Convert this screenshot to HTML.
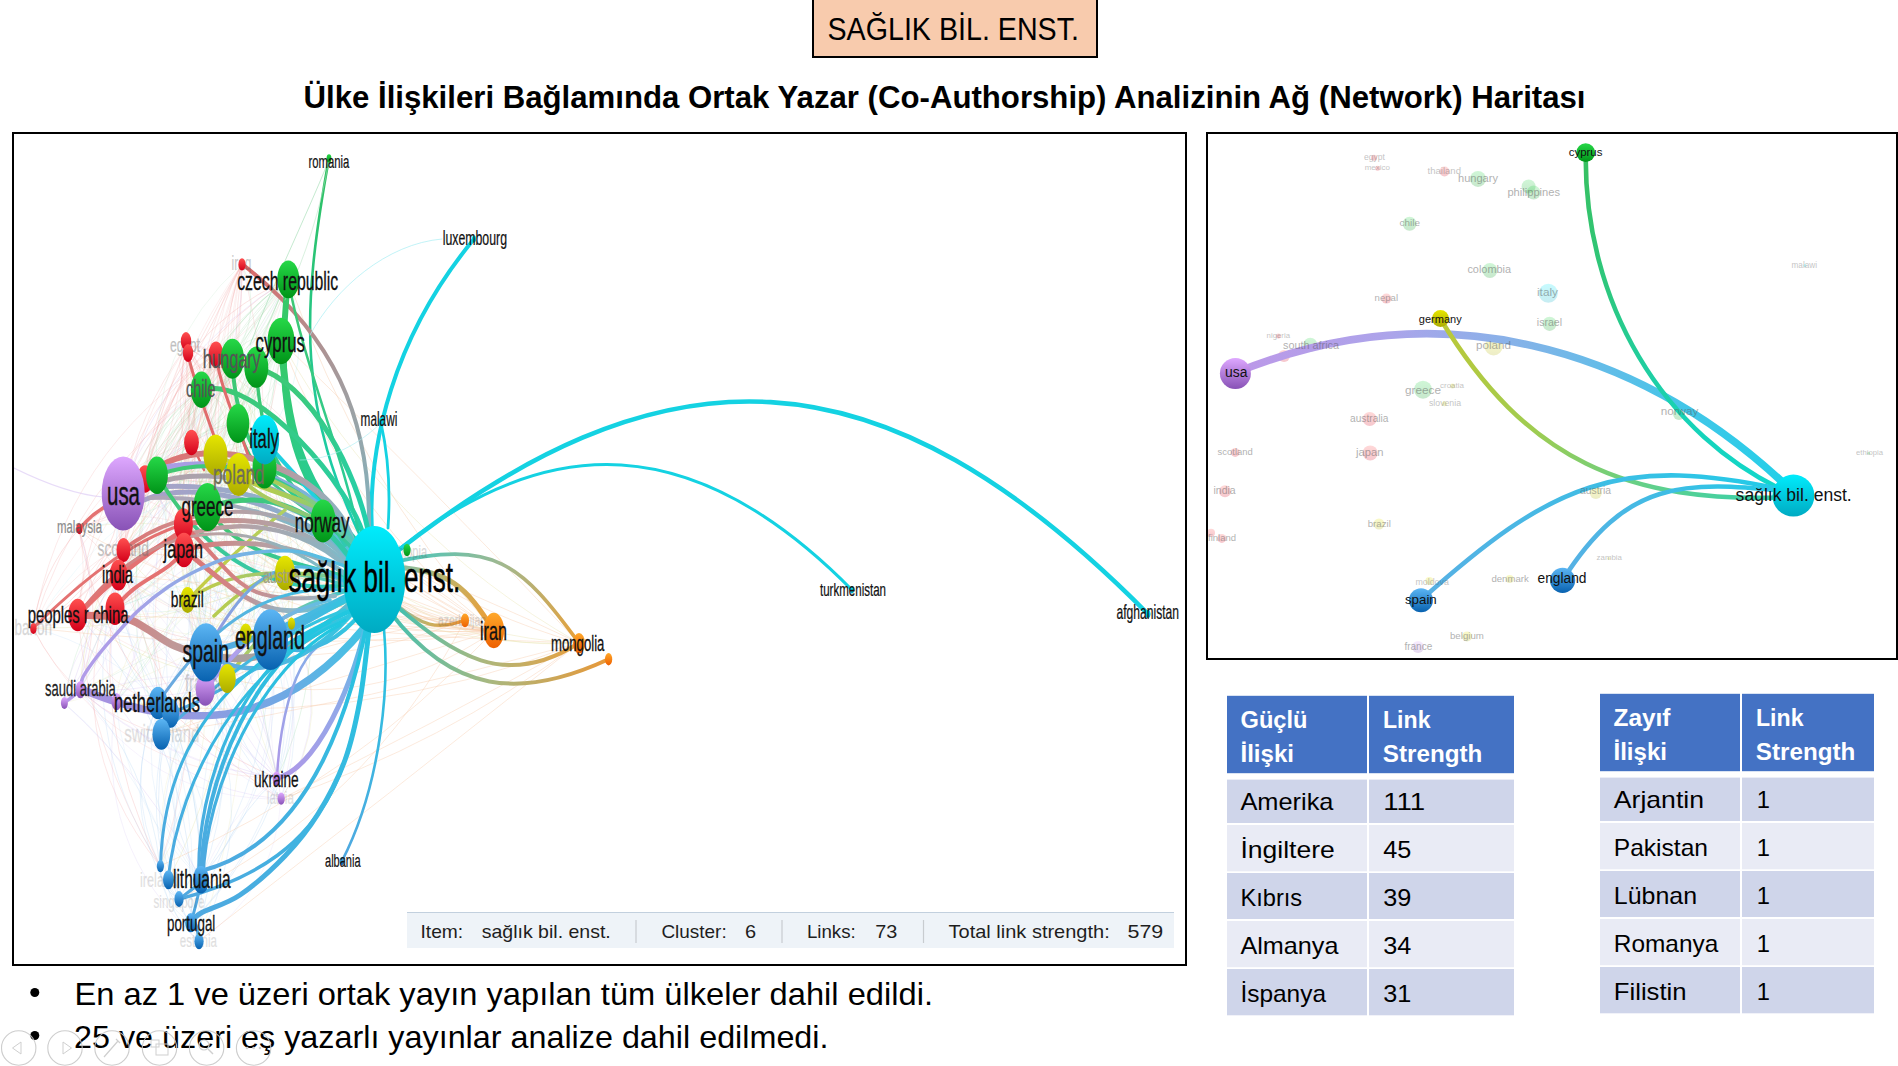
<!DOCTYPE html>
<html><head><meta charset="utf-8"><title>slide</title>
<style>
html,body{margin:0;padding:0;background:#fff;}
body{width:1898px;height:1066px;overflow:hidden;}
svg{display:block;}
text{font-family:"Liberation Sans",sans-serif;}
</style></head><body>
<svg width="1898" height="1066" viewBox="0 0 1898 1066">
<defs>
<linearGradient id="n_red" x1="0" y1="0" x2="0" y2="1"><stop offset="0" stop-color="#ff5050"/><stop offset="1" stop-color="#d4001a"/></linearGradient>
<linearGradient id="n_green" x1="0" y1="0" x2="0" y2="1"><stop offset="0" stop-color="#26d848"/><stop offset="1" stop-color="#009418"/></linearGradient>
<linearGradient id="n_blue" x1="0" y1="0" x2="0" y2="1"><stop offset="0" stop-color="#5cb6f4"/><stop offset="1" stop-color="#0862b0"/></linearGradient>
<linearGradient id="n_yellow" x1="0" y1="0" x2="0" y2="1"><stop offset="0" stop-color="#e6e600"/><stop offset="1" stop-color="#acac00"/></linearGradient>
<linearGradient id="n_purple" x1="0" y1="0" x2="0" y2="1"><stop offset="0" stop-color="#dea8ff"/><stop offset="1" stop-color="#8852b6"/></linearGradient>
<linearGradient id="n_cyan" x1="0" y1="0" x2="0" y2="1"><stop offset="0" stop-color="#00ecfc"/><stop offset="1" stop-color="#00aac2"/></linearGradient>
<linearGradient id="n_orange" x1="0" y1="0" x2="0" y2="1"><stop offset="0" stop-color="#ffa82a"/><stop offset="1" stop-color="#ee6000"/></linearGradient>
<linearGradient id="lg1" gradientUnits="userSpaceOnUse" x1="390.0" y1="563.0" x2="579.0" y2="643.0"><stop offset="0.00" stop-color="#40c8c0"/><stop offset="0.50" stop-color="#a0b890"/><stop offset="1.00" stop-color="#e8a038"/></linearGradient>
<linearGradient id="lg2" gradientUnits="userSpaceOnUse" x1="395.0" y1="567.0" x2="494.0" y2="631.0"><stop offset="0.00" stop-color="#80c0a8"/><stop offset="0.50" stop-color="#c8b060"/><stop offset="1.00" stop-color="#f09a30"/></linearGradient>
<linearGradient id="lg3" gradientUnits="userSpaceOnUse" x1="398.0" y1="606.0" x2="465.0" y2="620.0"><stop offset="0.00" stop-color="#90b8a0"/><stop offset="0.50" stop-color="#c8b060"/><stop offset="1.00" stop-color="#f09030"/></linearGradient>
<linearGradient id="lg4" gradientUnits="userSpaceOnUse" x1="395.0" y1="605.0" x2="579.0" y2="643.0"><stop offset="0.00" stop-color="#40c0b0"/><stop offset="0.50" stop-color="#a8b880"/><stop offset="1.00" stop-color="#e8a040"/></linearGradient>
<linearGradient id="lg5" gradientUnits="userSpaceOnUse" x1="390.0" y1="612.0" x2="609.0" y2="659.0"><stop offset="0.00" stop-color="#40c0b0"/><stop offset="0.50" stop-color="#a8b880"/><stop offset="1.00" stop-color="#e89838"/></linearGradient>
<linearGradient id="lg6" gradientUnits="userSpaceOnUse" x1="329.0" y1="158.0" x2="366.0" y2="548.0"><stop offset="0.00" stop-color="#30c060"/><stop offset="1.00" stop-color="#18cfb8"/></linearGradient>
<linearGradient id="lg7" gradientUnits="userSpaceOnUse" x1="242.0" y1="264.0" x2="369.0" y2="529.0"><stop offset="0.00" stop-color="#e06868"/><stop offset="0.33" stop-color="#b09090"/><stop offset="0.67" stop-color="#98a4a8"/><stop offset="1.00" stop-color="#80b4c0"/></linearGradient>
<linearGradient id="lg8" gradientUnits="userSpaceOnUse" x1="288.0" y1="279.0" x2="358.0" y2="545.0"><stop offset="0.00" stop-color="#38c864"/><stop offset="1.00" stop-color="#28cc98"/></linearGradient>
<linearGradient id="lg9" gradientUnits="userSpaceOnUse" x1="281.0" y1="341.0" x2="356.0" y2="542.0"><stop offset="0.00" stop-color="#38c864"/><stop offset="1.00" stop-color="#22cea8"/></linearGradient>
<linearGradient id="lg10" gradientUnits="userSpaceOnUse" x1="256.0" y1="367.0" x2="368.0" y2="530.0"><stop offset="0.00" stop-color="#40c870"/><stop offset="1.00" stop-color="#22d0b0"/></linearGradient>
<linearGradient id="lg11" gradientUnits="userSpaceOnUse" x1="201.0" y1="390.0" x2="364.0" y2="538.0"><stop offset="0.00" stop-color="#40c870"/><stop offset="1.00" stop-color="#24cfac"/></linearGradient>
<linearGradient id="lg12" gradientUnits="userSpaceOnUse" x1="232.0" y1="359.0" x2="350.0" y2="548.0"><stop offset="0.00" stop-color="#40c870"/><stop offset="1.00" stop-color="#28cc9c"/></linearGradient>
<linearGradient id="lg13" gradientUnits="userSpaceOnUse" x1="256.0" y1="367.0" x2="355.0" y2="550.0"><stop offset="0.00" stop-color="#40c870"/><stop offset="1.00" stop-color="#28cc9c"/></linearGradient>
<linearGradient id="lg14" gradientUnits="userSpaceOnUse" x1="264.0" y1="468.0" x2="355.0" y2="545.0"><stop offset="0.00" stop-color="#40c870"/><stop offset="1.00" stop-color="#28cca0"/></linearGradient>
<linearGradient id="lg15" gradientUnits="userSpaceOnUse" x1="238.0" y1="423.0" x2="350.0" y2="555.0"><stop offset="0.00" stop-color="#44c86c"/><stop offset="1.00" stop-color="#30c8b0"/></linearGradient>
<linearGradient id="lg16" gradientUnits="userSpaceOnUse" x1="288.0" y1="279.0" x2="358.0" y2="530.0"><stop offset="0.00" stop-color="#40c870"/><stop offset="1.00" stop-color="#28cc9c"/></linearGradient>
<linearGradient id="lg17" gradientUnits="userSpaceOnUse" x1="145.0" y1="478.0" x2="352.0" y2="540.0"><stop offset="0.00" stop-color="#e07070"/><stop offset="0.33" stop-color="#d08080"/><stop offset="0.67" stop-color="#b0a0a8"/><stop offset="1.00" stop-color="#80b8c8"/></linearGradient>
<linearGradient id="lg18" gradientUnits="userSpaceOnUse" x1="140.0" y1="475.0" x2="356.0" y2="552.0"><stop offset="0.00" stop-color="#b09ae6"/><stop offset="0.33" stop-color="#a0a0e0"/><stop offset="0.67" stop-color="#80b0d8"/><stop offset="1.00" stop-color="#50c4e0"/></linearGradient>
<linearGradient id="lg19" gradientUnits="userSpaceOnUse" x1="150.0" y1="485.0" x2="360.0" y2="562.0"><stop offset="0.00" stop-color="#b0a0a8"/><stop offset="0.33" stop-color="#a8a4b0"/><stop offset="0.67" stop-color="#90b0c0"/><stop offset="1.00" stop-color="#60c0d0"/></linearGradient>
<linearGradient id="lg20" gradientUnits="userSpaceOnUse" x1="144.0" y1="500.0" x2="348.0" y2="558.0"><stop offset="0.00" stop-color="#a8a0c8"/><stop offset="0.50" stop-color="#98a8c8"/><stop offset="1.00" stop-color="#70b8d0"/></linearGradient>
<linearGradient id="lg21" gradientUnits="userSpaceOnUse" x1="140.0" y1="490.0" x2="352.0" y2="552.0"><stop offset="0.00" stop-color="#a8a0c8"/><stop offset="0.33" stop-color="#a0a8c8"/><stop offset="0.67" stop-color="#80b4cc"/><stop offset="1.00" stop-color="#50c4d8"/></linearGradient>
<linearGradient id="lg22" gradientUnits="userSpaceOnUse" x1="150.0" y1="498.0" x2="356.0" y2="568.0"><stop offset="0.00" stop-color="#b0a4b8"/><stop offset="0.33" stop-color="#a8aab8"/><stop offset="0.67" stop-color="#80b8c8"/><stop offset="1.00" stop-color="#50c4d8"/></linearGradient>
<linearGradient id="lg23" gradientUnits="userSpaceOnUse" x1="207.0" y1="507.0" x2="355.0" y2="565.0"><stop offset="0.00" stop-color="#44c86c"/><stop offset="1.00" stop-color="#30c8b0"/></linearGradient>
<linearGradient id="lg24" gradientUnits="userSpaceOnUse" x1="157.0" y1="475.0" x2="352.0" y2="584.0"><stop offset="0.00" stop-color="#44c86c"/><stop offset="0.50" stop-color="#38c8a0"/><stop offset="1.00" stop-color="#30c8c0"/></linearGradient>
<linearGradient id="lg25" gradientUnits="userSpaceOnUse" x1="157.0" y1="475.0" x2="345.0" y2="545.0"><stop offset="0.00" stop-color="#44c86c"/><stop offset="1.00" stop-color="#30c8b0"/></linearGradient>
<linearGradient id="lg26" gradientUnits="userSpaceOnUse" x1="207.0" y1="507.0" x2="352.0" y2="578.0"><stop offset="0.00" stop-color="#44c86c"/><stop offset="1.00" stop-color="#30c8b0"/></linearGradient>
<linearGradient id="lg27" gradientUnits="userSpaceOnUse" x1="323.0" y1="521.0" x2="360.0" y2="560.0"><stop offset="0.00" stop-color="#40c870"/><stop offset="1.00" stop-color="#30c8c0"/></linearGradient>
<linearGradient id="lg28" gradientUnits="userSpaceOnUse" x1="238.0" y1="474.0" x2="352.0" y2="540.0"><stop offset="0.00" stop-color="#c8cc40"/><stop offset="0.50" stop-color="#a0cc60"/><stop offset="1.00" stop-color="#50c8c0"/></linearGradient>
<linearGradient id="lg29" gradientUnits="userSpaceOnUse" x1="215.0" y1="455.0" x2="350.0" y2="538.0"><stop offset="0.00" stop-color="#c8cc40"/><stop offset="0.50" stop-color="#a0cc60"/><stop offset="1.00" stop-color="#50c8c0"/></linearGradient>
<linearGradient id="lg30" gradientUnits="userSpaceOnUse" x1="238.0" y1="474.0" x2="358.0" y2="550.0"><stop offset="0.00" stop-color="#c0cc50"/><stop offset="0.50" stop-color="#90c870"/><stop offset="1.00" stop-color="#50c8c0"/></linearGradient>
<linearGradient id="lg31" gradientUnits="userSpaceOnUse" x1="188.0" y1="600.0" x2="285.0" y2="510.0"><stop offset="0.00" stop-color="#c8cc40"/><stop offset="1.00" stop-color="#b0d060"/></linearGradient>
<linearGradient id="lg32" gradientUnits="userSpaceOnUse" x1="188.0" y1="600.0" x2="345.0" y2="585.0"><stop offset="0.00" stop-color="#c8cc40"/><stop offset="0.50" stop-color="#a0c870"/><stop offset="1.00" stop-color="#40c8d0"/></linearGradient>
<linearGradient id="lg33" gradientUnits="userSpaceOnUse" x1="246.0" y1="634.0" x2="350.0" y2="590.0"><stop offset="0.00" stop-color="#c8cc40"/><stop offset="1.00" stop-color="#60c8c0"/></linearGradient>
<linearGradient id="lg34" gradientUnits="userSpaceOnUse" x1="291.0" y1="624.0" x2="350.0" y2="600.0"><stop offset="0.00" stop-color="#c8cc40"/><stop offset="1.00" stop-color="#60c8c0"/></linearGradient>
<linearGradient id="lg35" gradientUnits="userSpaceOnUse" x1="227.0" y1="678.0" x2="350.0" y2="590.0"><stop offset="0.00" stop-color="#c8cc40"/><stop offset="0.50" stop-color="#80c8a0"/><stop offset="1.00" stop-color="#40c8d0"/></linearGradient>
<linearGradient id="lg36" gradientUnits="userSpaceOnUse" x1="285.0" y1="573.0" x2="350.0" y2="580.0"><stop offset="0.00" stop-color="#c8cc40"/><stop offset="1.00" stop-color="#40c8d0"/></linearGradient>
<linearGradient id="lg37" gradientUnits="userSpaceOnUse" x1="214.0" y1="616.0" x2="285.0" y2="573.0"><stop offset="0.00" stop-color="#b8cc50"/><stop offset="1.00" stop-color="#a8cc60"/></linearGradient>
<linearGradient id="lg38" gradientUnits="userSpaceOnUse" x1="183.0" y1="524.0" x2="350.0" y2="568.0"><stop offset="0.00" stop-color="#e07070"/><stop offset="0.33" stop-color="#c09898"/><stop offset="0.67" stop-color="#a8a8b0"/><stop offset="1.00" stop-color="#70c0d0"/></linearGradient>
<linearGradient id="lg39" gradientUnits="userSpaceOnUse" x1="184.0" y1="550.0" x2="352.0" y2="580.0"><stop offset="0.00" stop-color="#e07070"/><stop offset="0.33" stop-color="#c09898"/><stop offset="0.67" stop-color="#a8a8b0"/><stop offset="1.00" stop-color="#70c0d0"/></linearGradient>
<linearGradient id="lg40" gradientUnits="userSpaceOnUse" x1="123.0" y1="550.0" x2="345.0" y2="560.0"><stop offset="0.00" stop-color="#e07070"/><stop offset="0.33" stop-color="#c89898"/><stop offset="0.67" stop-color="#a8a8b0"/><stop offset="1.00" stop-color="#80b8c8"/></linearGradient>
<linearGradient id="lg41" gradientUnits="userSpaceOnUse" x1="118.0" y1="575.0" x2="352.0" y2="572.0"><stop offset="0.00" stop-color="#e07070"/><stop offset="0.33" stop-color="#c89898"/><stop offset="0.67" stop-color="#a8a8b0"/><stop offset="1.00" stop-color="#80b8c8"/></linearGradient>
<linearGradient id="lg42" gradientUnits="userSpaceOnUse" x1="184.0" y1="550.0" x2="355.0" y2="595.0"><stop offset="0.00" stop-color="#e07070"/><stop offset="0.33" stop-color="#d08888"/><stop offset="0.67" stop-color="#90b8c8"/><stop offset="1.00" stop-color="#40c4d8"/></linearGradient>
<linearGradient id="lg43" gradientUnits="userSpaceOnUse" x1="183.0" y1="524.0" x2="335.0" y2="596.0"><stop offset="0.00" stop-color="#e07070"/><stop offset="0.50" stop-color="#d08888"/><stop offset="1.00" stop-color="#90b8c8"/></linearGradient>
<linearGradient id="lg44" gradientUnits="userSpaceOnUse" x1="78.0" y1="615.0" x2="358.0" y2="598.0"><stop offset="0.00" stop-color="#e07070"/><stop offset="0.33" stop-color="#c09898"/><stop offset="0.67" stop-color="#a0a0a0"/><stop offset="1.00" stop-color="#50c0d8"/></linearGradient>
<linearGradient id="lg45" gradientUnits="userSpaceOnUse" x1="78.0" y1="615.0" x2="345.0" y2="585.0"><stop offset="0.00" stop-color="#e07070"/><stop offset="0.50" stop-color="#c0a0a0"/><stop offset="1.00" stop-color="#70c0d0"/></linearGradient>
<linearGradient id="lg46" gradientUnits="userSpaceOnUse" x1="64.0" y1="703.0" x2="345.0" y2="566.0"><stop offset="0.00" stop-color="#b49ae8"/><stop offset="0.33" stop-color="#a8a0e8"/><stop offset="0.67" stop-color="#80b0e4"/><stop offset="1.00" stop-color="#50c0e0"/></linearGradient>
<linearGradient id="lg47" gradientUnits="userSpaceOnUse" x1="81.0" y1="689.0" x2="364.0" y2="628.0"><stop offset="0.00" stop-color="#a890e0"/><stop offset="0.33" stop-color="#9898e0"/><stop offset="0.67" stop-color="#70a8e4"/><stop offset="1.00" stop-color="#40c4e4"/></linearGradient>
<linearGradient id="lg48" gradientUnits="userSpaceOnUse" x1="206.0" y1="690.0" x2="330.0" y2="600.0"><stop offset="0.00" stop-color="#b098e8"/><stop offset="1.00" stop-color="#60c0e0"/></linearGradient>
<linearGradient id="lg49" gradientUnits="userSpaceOnUse" x1="277.0" y1="778.0" x2="368.0" y2="610.0"><stop offset="0.00" stop-color="#b098e8"/><stop offset="0.50" stop-color="#90a8e8"/><stop offset="1.00" stop-color="#40c4e4"/></linearGradient>
<linearGradient id="lg50" gradientUnits="userSpaceOnUse" x1="277.0" y1="778.0" x2="330.0" y2="640.0"><stop offset="0.00" stop-color="#b098e8"/><stop offset="1.00" stop-color="#80b0e8"/></linearGradient>
<linearGradient id="lg51" gradientUnits="userSpaceOnUse" x1="206.0" y1="652.0" x2="350.0" y2="595.0"><stop offset="0.00" stop-color="#58a8e0"/><stop offset="1.00" stop-color="#40c0e0"/></linearGradient>
<linearGradient id="lg52" gradientUnits="userSpaceOnUse" x1="270.0" y1="640.0" x2="355.0" y2="595.0"><stop offset="0.00" stop-color="#58a8e0"/><stop offset="1.00" stop-color="#30c8e0"/></linearGradient>
<linearGradient id="lg53" gradientUnits="userSpaceOnUse" x1="206.0" y1="652.0" x2="355.0" y2="610.0"><stop offset="0.00" stop-color="#6aa8e0"/><stop offset="1.00" stop-color="#30c8e0"/></linearGradient>
<linearGradient id="lg54" gradientUnits="userSpaceOnUse" x1="206.0" y1="652.0" x2="350.0" y2="585.0"><stop offset="0.00" stop-color="#a098e0"/><stop offset="1.00" stop-color="#40c0e0"/></linearGradient>
<linearGradient id="lg55" gradientUnits="userSpaceOnUse" x1="158.0" y1="703.0" x2="345.0" y2="590.0"><stop offset="0.00" stop-color="#70a8e0"/><stop offset="1.00" stop-color="#40c0e0"/></linearGradient>
<linearGradient id="lg56" gradientUnits="userSpaceOnUse" x1="161.0" y1="734.0" x2="345.0" y2="610.0"><stop offset="0.00" stop-color="#58a8e0"/><stop offset="1.00" stop-color="#30c8e0"/></linearGradient>
<linearGradient id="lg57" gradientUnits="userSpaceOnUse" x1="171.0" y1="713.0" x2="350.0" y2="615.0"><stop offset="0.00" stop-color="#58a8e0"/><stop offset="1.00" stop-color="#30c8e0"/></linearGradient>
<linearGradient id="lg58" gradientUnits="userSpaceOnUse" x1="270.0" y1="640.0" x2="355.0" y2="620.0"><stop offset="0.00" stop-color="#58a8e0"/><stop offset="1.00" stop-color="#30c8e0"/></linearGradient>
<linearGradient id="lg59" gradientUnits="userSpaceOnUse" x1="160.5" y1="866.0" x2="350.0" y2="612.0"><stop offset="0.00" stop-color="#50a8e0"/><stop offset="0.50" stop-color="#38b8e0"/><stop offset="1.00" stop-color="#20c8e0"/></linearGradient>
<linearGradient id="lg60" gradientUnits="userSpaceOnUse" x1="168.0" y1="880.0" x2="345.0" y2="620.0"><stop offset="0.00" stop-color="#50a8e0"/><stop offset="0.50" stop-color="#38b8e0"/><stop offset="1.00" stop-color="#20c8e0"/></linearGradient>
<linearGradient id="lg61" gradientUnits="userSpaceOnUse" x1="201.0" y1="880.0" x2="352.0" y2="610.0"><stop offset="0.00" stop-color="#50a8e0"/><stop offset="0.50" stop-color="#38b8e0"/><stop offset="1.00" stop-color="#20c8e0"/></linearGradient>
<linearGradient id="lg62" gradientUnits="userSpaceOnUse" x1="199.0" y1="878.0" x2="330.0" y2="622.0"><stop offset="0.00" stop-color="#50a8e0"/><stop offset="0.50" stop-color="#38b8e0"/><stop offset="1.00" stop-color="#20c8e0"/></linearGradient>
<linearGradient id="lg63" gradientUnits="userSpaceOnUse" x1="203.0" y1="878.0" x2="340.0" y2="625.0"><stop offset="0.00" stop-color="#50a8e0"/><stop offset="0.50" stop-color="#38b8e0"/><stop offset="1.00" stop-color="#20c8e0"/></linearGradient>
<linearGradient id="lg64" gradientUnits="userSpaceOnUse" x1="201.0" y1="871.0" x2="372.0" y2="595.0"><stop offset="0.00" stop-color="#50a8e0"/><stop offset="0.50" stop-color="#38b8e0"/><stop offset="1.00" stop-color="#20c8e0"/></linearGradient>
<linearGradient id="lg65" gradientUnits="userSpaceOnUse" x1="179.0" y1="899.0" x2="373.0" y2="595.0"><stop offset="0.00" stop-color="#50a8e0"/><stop offset="0.50" stop-color="#38b8e0"/><stop offset="1.00" stop-color="#20c8e0"/></linearGradient>
<linearGradient id="lg66" gradientUnits="userSpaceOnUse" x1="191.0" y1="923.0" x2="374.0" y2="595.0"><stop offset="0.00" stop-color="#50a8e0"/><stop offset="0.50" stop-color="#38b8e0"/><stop offset="1.00" stop-color="#20c8e0"/></linearGradient>
<linearGradient id="lg67" gradientUnits="userSpaceOnUse" x1="342.0" y1="861.0" x2="380.0" y2="600.0"><stop offset="0.00" stop-color="#50a8e0"/><stop offset="1.00" stop-color="#20c8e0"/></linearGradient>
<clipPath id="clipL"><rect x="14" y="134" width="1171" height="830"/></clipPath>
<linearGradient id="lg68" gradientUnits="userSpaceOnUse" x1="1235.0" y1="373.0" x2="1793.0" y2="492.0"><stop offset="0.00" stop-color="#bc98e8"/><stop offset="0.25" stop-color="#aca4ea"/><stop offset="0.50" stop-color="#80b4e8"/><stop offset="0.75" stop-color="#48c4e8"/><stop offset="1.00" stop-color="#20d0e8"/></linearGradient>
<linearGradient id="lg69" gradientUnits="userSpaceOnUse" x1="1440.5" y1="319.0" x2="1793.0" y2="497.0"><stop offset="0.00" stop-color="#bcc838"/><stop offset="0.33" stop-color="#a0cc50"/><stop offset="0.67" stop-color="#60d08c"/><stop offset="1.00" stop-color="#30d0b0"/></linearGradient>
<linearGradient id="lg70" gradientUnits="userSpaceOnUse" x1="1585.7" y1="155.0" x2="1793.0" y2="495.0"><stop offset="0.00" stop-color="#38c060"/><stop offset="0.33" stop-color="#2cc880"/><stop offset="0.67" stop-color="#18d2b4"/><stop offset="1.00" stop-color="#10d8d0"/></linearGradient>
<linearGradient id="lg71" gradientUnits="userSpaceOnUse" x1="1421.0" y1="600.0" x2="1793.0" y2="492.0"><stop offset="0.00" stop-color="#58b0e4"/><stop offset="0.50" stop-color="#40bce4"/><stop offset="1.00" stop-color="#20cce8"/></linearGradient>
<linearGradient id="lg72" gradientUnits="userSpaceOnUse" x1="1562.6" y1="580.0" x2="1793.0" y2="492.0"><stop offset="0.00" stop-color="#58b0e4"/><stop offset="0.50" stop-color="#40bce4"/><stop offset="1.00" stop-color="#20cce8"/></linearGradient>
<clipPath id="clipR"><rect x="1208" y="134" width="688" height="524"/></clipPath>
</defs>
<rect x="0" y="0" width="1898" height="1066" fill="#fff"/>
<rect x="813" y="-2" width="284" height="59" fill="#F8CBAD" stroke="#000" stroke-width="2"/>
<text x="827.5" y="39.7" font-size="31.50" fill="#000" textLength="251.5" lengthAdjust="spacingAndGlyphs">SAĞLIK BİL. ENST.</text>
<text x="303.5" y="107.9" font-size="31.50" fill="#000" font-weight="bold" textLength="1282.0" lengthAdjust="spacingAndGlyphs">Ülke İlişkileri Bağlamında Ortak Yazar (Co-Authorship) Analizinin Ağ (Network) Haritası</text>
<g clip-path="url(#clipL)"><rect x="13" y="133" width="1173" height="832" fill="#fff"/>
<path d="M160.0,866.0 Q160.2,902.8 191.0,923.0" fill="none" stroke="#acd0f2" stroke-width="0.70" stroke-linecap="round" opacity="0.26"/>
<path d="M191.0,923.0 Q205.4,903.7 201.0,880.0" fill="none" stroke="#acd0f2" stroke-width="0.70" stroke-linecap="round" opacity="0.24"/>
<path d="M264.0,468.0 Q156.3,522.9 78.0,615.0" fill="none" stroke="#a4dcb0" stroke-width="0.70" stroke-linecap="round" opacity="0.36"/>
<path d="M158.0,703.0 Q122.5,784.9 160.0,866.0" fill="none" stroke="#acd0f2" stroke-width="0.70" stroke-linecap="round" opacity="0.36"/>
<path d="M145.0,479.0 Q172.5,466.1 191.0,442.0" fill="none" stroke="#f2a4a4" stroke-width="0.70" stroke-linecap="round" opacity="0.36"/>
<path d="M291.0,624.0 Q302.7,513.4 238.0,423.0" fill="none" stroke="#dede98" stroke-width="0.70" stroke-linecap="round" opacity="0.33"/>
<path d="M201.0,390.0 Q89.3,542.5 171.0,713.0" fill="none" stroke="#a4dcb0" stroke-width="0.70" stroke-linecap="round" opacity="0.38"/>
<path d="M157.0,475.0 Q206.4,443.4 265.0,440.0" fill="none" stroke="#a4dcb0" stroke-width="0.70" stroke-linecap="round" opacity="0.23"/>
<path d="M285.0,573.0 Q328.8,585.7 374.0,580.0" fill="none" stroke="#dede98" stroke-width="0.70" stroke-linecap="round" opacity="0.41"/>
<path d="M270.0,640.0 Q260.2,556.7 183.0,524.0" fill="none" stroke="#acd0f2" stroke-width="0.70" stroke-linecap="round" opacity="0.27"/>
<path d="M270.0,640.0 Q229.1,654.1 205.0,690.0" fill="none" stroke="#acd0f2" stroke-width="0.70" stroke-linecap="round" opacity="0.35"/>
<path d="M207.0,507.0 Q189.1,525.1 184.0,550.0" fill="none" stroke="#a4dcb0" stroke-width="0.70" stroke-linecap="round" opacity="0.44"/>
<path d="M265.0,440.0 Q181.9,479.4 123.0,550.0" fill="none" stroke="#a8e8f0" stroke-width="0.70" stroke-linecap="round" opacity="0.22"/>
<path d="M168.0,880.0 Q171.2,890.8 179.0,899.0" fill="none" stroke="#acd0f2" stroke-width="0.70" stroke-linecap="round" opacity="0.32"/>
<path d="M374.0,580.0 Q245.1,621.6 118.0,575.0" fill="none" stroke="#a8e8f0" stroke-width="0.70" stroke-linecap="round" opacity="0.25"/>
<path d="M186.0,347.0 Q205.1,364.4 201.0,390.0" fill="none" stroke="#f2a4a4" stroke-width="0.70" stroke-linecap="round" opacity="0.45"/>
<path d="M216.0,354.0 Q261.1,325.2 288.0,279.0" fill="none" stroke="#f2a4a4" stroke-width="0.70" stroke-linecap="round" opacity="0.23"/>
<path d="M186.0,347.0 Q329.9,423.2 374.0,580.0" fill="none" stroke="#f2a4a4" stroke-width="0.70" stroke-linecap="round" opacity="0.31"/>
<path d="M183.0,524.0 Q180.2,537.1 184.0,550.0" fill="none" stroke="#f2a4a4" stroke-width="0.70" stroke-linecap="round" opacity="0.22"/>
<path d="M227.0,678.0 Q219.3,785.4 168.0,880.0" fill="none" stroke="#dede98" stroke-width="0.70" stroke-linecap="round" opacity="0.41"/>
<path d="M118.0,575.0 Q186.2,625.8 270.0,640.0" fill="none" stroke="#f2a4a4" stroke-width="0.70" stroke-linecap="round" opacity="0.29"/>
<path d="M281.0,799.0 Q336.2,714.4 291.0,624.0" fill="none" stroke="#d2bcf2" stroke-width="0.70" stroke-linecap="round" opacity="0.38"/>
<path d="M270.0,640.0 Q286.6,774.7 201.0,880.0" fill="none" stroke="#acd0f2" stroke-width="0.70" stroke-linecap="round" opacity="0.23"/>
<path d="M79.0,529.0 Q118.2,463.9 191.0,442.0" fill="none" stroke="#f2a4a4" stroke-width="0.70" stroke-linecap="round" opacity="0.27"/>
<path d="M205.0,690.0 Q183.3,702.9 158.0,703.0" fill="none" stroke="#d2bcf2" stroke-width="0.70" stroke-linecap="round" opacity="0.29"/>
<path d="M33.0,628.0 Q110.8,775.0 277.0,778.0" fill="none" stroke="#f2a4a4" stroke-width="0.70" stroke-linecap="round" opacity="0.27"/>
<path d="M238.0,474.0 Q175.4,452.7 123.0,493.0" fill="none" stroke="#dede98" stroke-width="0.70" stroke-linecap="round" opacity="0.28"/>
<path d="M216.0,354.0 Q223.2,443.6 183.0,524.0" fill="none" stroke="#f2a4a4" stroke-width="0.70" stroke-linecap="round" opacity="0.28"/>
<path d="M191.0,442.0 Q85.6,512.6 33.0,628.0" fill="none" stroke="#f2a4a4" stroke-width="0.70" stroke-linecap="round" opacity="0.24"/>
<path d="M118.0,575.0 Q52.9,732.9 160.0,866.0" fill="none" stroke="#f2a4a4" stroke-width="0.70" stroke-linecap="round" opacity="0.36"/>
<path d="M323.0,521.0 Q192.6,580.7 116.0,702.0" fill="none" stroke="#a4dcb0" stroke-width="0.70" stroke-linecap="round" opacity="0.22"/>
<path d="M291.0,624.0 Q218.4,594.1 183.0,524.0" fill="none" stroke="#dede98" stroke-width="0.70" stroke-linecap="round" opacity="0.29"/>
<path d="M206.0,652.0 Q230.3,732.2 281.0,799.0" fill="none" stroke="#acd0f2" stroke-width="0.70" stroke-linecap="round" opacity="0.40"/>
<path d="M207.0,507.0 Q266.4,502.6 323.0,521.0" fill="none" stroke="#a4dcb0" stroke-width="0.70" stroke-linecap="round" opacity="0.43"/>
<path d="M80.0,690.0 Q183.2,696.0 270.0,640.0" fill="none" stroke="#d2bcf2" stroke-width="0.70" stroke-linecap="round" opacity="0.36"/>
<path d="M291.0,624.0 Q184.9,637.2 123.0,550.0" fill="none" stroke="#dede98" stroke-width="0.70" stroke-linecap="round" opacity="0.39"/>
<path d="M270.0,640.0 Q312.5,716.9 281.0,799.0" fill="none" stroke="#acd0f2" stroke-width="0.70" stroke-linecap="round" opacity="0.32"/>
<path d="M215.0,455.0 Q181.1,496.5 184.0,550.0" fill="none" stroke="#dede98" stroke-width="0.70" stroke-linecap="round" opacity="0.29"/>
<path d="M216.0,354.0 Q252.3,366.4 281.0,341.0" fill="none" stroke="#f2a4a4" stroke-width="0.70" stroke-linecap="round" opacity="0.33"/>
<path d="M227.0,678.0 Q156.9,725.5 80.0,690.0" fill="none" stroke="#dede98" stroke-width="0.70" stroke-linecap="round" opacity="0.43"/>
<path d="M206.0,652.0 Q255.5,566.5 264.0,468.0" fill="none" stroke="#acd0f2" stroke-width="0.70" stroke-linecap="round" opacity="0.34"/>
<path d="M265.0,440.0 Q251.1,486.6 207.0,507.0" fill="none" stroke="#a8e8f0" stroke-width="0.70" stroke-linecap="round" opacity="0.33"/>
<path d="M232.0,359.0 Q214.1,429.7 157.0,475.0" fill="none" stroke="#a4dcb0" stroke-width="0.70" stroke-linecap="round" opacity="0.27"/>
<path d="M161.0,734.0 Q295.7,616.2 265.0,440.0" fill="none" stroke="#acd0f2" stroke-width="0.70" stroke-linecap="round" opacity="0.31"/>
<path d="M188.0,600.0 Q188.3,533.6 157.0,475.0" fill="none" stroke="#dede98" stroke-width="0.70" stroke-linecap="round" opacity="0.33"/>
<path d="M191.0,442.0 Q221.3,564.7 205.0,690.0" fill="none" stroke="#f2a4a4" stroke-width="0.70" stroke-linecap="round" opacity="0.41"/>
<path d="M123.0,550.0 Q83.5,714.8 160.0,866.0" fill="none" stroke="#f2a4a4" stroke-width="0.70" stroke-linecap="round" opacity="0.41"/>
<path d="M270.0,640.0 Q277.4,627.9 291.0,624.0" fill="none" stroke="#acd0f2" stroke-width="0.70" stroke-linecap="round" opacity="0.38"/>
<path d="M227.0,678.0 Q165.2,761.9 160.0,866.0" fill="none" stroke="#dede98" stroke-width="0.70" stroke-linecap="round" opacity="0.28"/>
<path d="M246.0,634.0 Q174.5,550.6 191.0,442.0" fill="none" stroke="#dede98" stroke-width="0.70" stroke-linecap="round" opacity="0.35"/>
<path d="M264.0,468.0 Q187.1,444.7 123.0,493.0" fill="none" stroke="#a4dcb0" stroke-width="0.70" stroke-linecap="round" opacity="0.37"/>
<path d="M158.0,703.0 Q184.6,790.3 168.0,880.0" fill="none" stroke="#acd0f2" stroke-width="0.70" stroke-linecap="round" opacity="0.27"/>
<path d="M78.0,615.0 Q151.8,566.9 145.0,479.0" fill="none" stroke="#f2a4a4" stroke-width="0.70" stroke-linecap="round" opacity="0.32"/>
<path d="M291.0,624.0 Q215.1,556.5 215.0,455.0" fill="none" stroke="#dede98" stroke-width="0.70" stroke-linecap="round" opacity="0.44"/>
<path d="M215.0,455.0 Q189.3,571.6 205.0,690.0" fill="none" stroke="#dede98" stroke-width="0.70" stroke-linecap="round" opacity="0.28"/>
<path d="M323.0,521.0 Q284.4,462.8 215.0,455.0" fill="none" stroke="#a4dcb0" stroke-width="0.70" stroke-linecap="round" opacity="0.31"/>
<path d="M184.0,550.0 Q224.0,635.2 171.0,713.0" fill="none" stroke="#f2a4a4" stroke-width="0.70" stroke-linecap="round" opacity="0.25"/>
<path d="M291.0,624.0 Q193.4,502.6 186.0,347.0" fill="none" stroke="#dede98" stroke-width="0.70" stroke-linecap="round" opacity="0.33"/>
<path d="M123.0,493.0 Q227.3,402.8 288.0,279.0" fill="none" stroke="#d2bcf2" stroke-width="0.70" stroke-linecap="round" opacity="0.27"/>
<path d="M270.0,640.0 Q200.4,620.4 184.0,550.0" fill="none" stroke="#acd0f2" stroke-width="0.70" stroke-linecap="round" opacity="0.28"/>
<path d="M184.0,550.0 Q168.4,494.8 191.0,442.0" fill="none" stroke="#f2a4a4" stroke-width="0.70" stroke-linecap="round" opacity="0.40"/>
<path d="M288.0,279.0 Q192.8,383.2 183.0,524.0" fill="none" stroke="#a4dcb0" stroke-width="0.70" stroke-linecap="round" opacity="0.26"/>
<path d="M207.0,507.0 Q85.8,568.8 64.0,703.0" fill="none" stroke="#a4dcb0" stroke-width="0.70" stroke-linecap="round" opacity="0.33"/>
<path d="M199.0,941.0 Q206.4,844.4 277.0,778.0" fill="none" stroke="#acd0f2" stroke-width="0.70" stroke-linecap="round" opacity="0.44"/>
<path d="M179.0,899.0 Q269.9,752.1 188.0,600.0" fill="none" stroke="#acd0f2" stroke-width="0.70" stroke-linecap="round" opacity="0.39"/>
<path d="M160.0,866.0 Q164.3,911.4 199.0,941.0" fill="none" stroke="#acd0f2" stroke-width="0.70" stroke-linecap="round" opacity="0.34"/>
<path d="M238.0,474.0 Q231.1,417.8 256.0,367.0" fill="none" stroke="#dede98" stroke-width="0.70" stroke-linecap="round" opacity="0.44"/>
<path d="M264.0,468.0 Q214.1,596.0 78.0,615.0" fill="none" stroke="#a4dcb0" stroke-width="0.70" stroke-linecap="round" opacity="0.35"/>
<path d="M215.0,455.0 Q187.1,520.0 123.0,550.0" fill="none" stroke="#dede98" stroke-width="0.70" stroke-linecap="round" opacity="0.23"/>
<path d="M158.0,703.0 Q250.0,593.6 215.0,455.0" fill="none" stroke="#acd0f2" stroke-width="0.70" stroke-linecap="round" opacity="0.33"/>
<path d="M116.0,702.0 Q106.7,655.6 115.0,609.0" fill="none" stroke="#d2bcf2" stroke-width="0.70" stroke-linecap="round" opacity="0.32"/>
<path d="M158.0,703.0 Q137.5,540.7 201.0,390.0" fill="none" stroke="#acd0f2" stroke-width="0.70" stroke-linecap="round" opacity="0.25"/>
<path d="M161.0,734.0 Q152.5,814.8 201.0,880.0" fill="none" stroke="#acd0f2" stroke-width="0.70" stroke-linecap="round" opacity="0.26"/>
<path d="M227.0,678.0 Q313.4,512.9 216.0,354.0" fill="none" stroke="#dede98" stroke-width="0.70" stroke-linecap="round" opacity="0.38"/>
<path d="M216.0,354.0 Q192.7,394.9 191.0,442.0" fill="none" stroke="#f2a4a4" stroke-width="0.70" stroke-linecap="round" opacity="0.22"/>
<path d="M238.0,423.0 Q185.1,429.6 157.0,475.0" fill="none" stroke="#a4dcb0" stroke-width="0.70" stroke-linecap="round" opacity="0.36"/>
<path d="M277.0,778.0 Q213.5,698.5 188.0,600.0" fill="none" stroke="#d2bcf2" stroke-width="0.70" stroke-linecap="round" opacity="0.39"/>
<path d="M116.0,702.0 Q92.2,844.2 199.0,941.0" fill="none" stroke="#d2bcf2" stroke-width="0.70" stroke-linecap="round" opacity="0.31"/>
<path d="M171.0,713.0 Q135.9,833.0 199.0,941.0" fill="none" stroke="#acd0f2" stroke-width="0.70" stroke-linecap="round" opacity="0.42"/>
<path d="M215.0,455.0 Q231.4,549.2 291.0,624.0" fill="none" stroke="#dede98" stroke-width="0.70" stroke-linecap="round" opacity="0.42"/>
<path d="M227.0,678.0 Q228.4,628.5 188.0,600.0" fill="none" stroke="#dede98" stroke-width="0.70" stroke-linecap="round" opacity="0.43"/>
<path d="M291.0,624.0 Q278.3,563.6 323.0,521.0" fill="none" stroke="#dede98" stroke-width="0.70" stroke-linecap="round" opacity="0.36"/>
<path d="M242.0,264.0 Q261.2,283.1 288.0,279.0" fill="none" stroke="#f2a4a4" stroke-width="0.70" stroke-linecap="round" opacity="0.42"/>
<path d="M118.0,575.0 Q198.6,479.4 232.0,359.0" fill="none" stroke="#f2a4a4" stroke-width="0.70" stroke-linecap="round" opacity="0.28"/>
<path d="M79.0,529.0 Q173.9,609.9 161.0,734.0" fill="none" stroke="#f2a4a4" stroke-width="0.70" stroke-linecap="round" opacity="0.34"/>
<path d="M205.0,690.0 Q175.8,621.7 118.0,575.0" fill="none" stroke="#d2bcf2" stroke-width="0.70" stroke-linecap="round" opacity="0.24"/>
<path d="M285.0,573.0 Q195.1,673.1 64.0,703.0" fill="none" stroke="#dede98" stroke-width="0.70" stroke-linecap="round" opacity="0.25"/>
<path d="M191.0,923.0 Q314.8,798.2 291.0,624.0" fill="none" stroke="#acd0f2" stroke-width="0.70" stroke-linecap="round" opacity="0.40"/>
<path d="M216.0,354.0 Q225.3,404.2 191.0,442.0" fill="none" stroke="#f2a4a4" stroke-width="0.70" stroke-linecap="round" opacity="0.25"/>
<path d="M33.0,628.0 Q87.7,600.2 123.0,550.0" fill="none" stroke="#f2a4a4" stroke-width="0.70" stroke-linecap="round" opacity="0.45"/>
<path d="M64.0,703.0 Q107.6,619.1 79.0,529.0" fill="none" stroke="#d2bcf2" stroke-width="0.70" stroke-linecap="round" opacity="0.44"/>
<path d="M265.0,440.0 Q185.5,512.8 79.0,529.0" fill="none" stroke="#a8e8f0" stroke-width="0.70" stroke-linecap="round" opacity="0.32"/>
<path d="M323.0,521.0 Q268.9,647.9 161.0,734.0" fill="none" stroke="#a4dcb0" stroke-width="0.70" stroke-linecap="round" opacity="0.22"/>
<path d="M116.0,702.0 Q222.6,591.9 191.0,442.0" fill="none" stroke="#d2bcf2" stroke-width="0.70" stroke-linecap="round" opacity="0.31"/>
<path d="M206.0,652.0 Q219.8,737.6 281.0,799.0" fill="none" stroke="#acd0f2" stroke-width="0.70" stroke-linecap="round" opacity="0.36"/>
<path d="M186.0,347.0 Q206.9,419.0 157.0,475.0" fill="none" stroke="#f2a4a4" stroke-width="0.70" stroke-linecap="round" opacity="0.35"/>
<path d="M188.0,600.0 Q173.6,548.6 207.0,507.0" fill="none" stroke="#dede98" stroke-width="0.70" stroke-linecap="round" opacity="0.28"/>
<path d="M123.0,550.0 Q141.4,713.0 281.0,799.0" fill="none" stroke="#f2a4a4" stroke-width="0.70" stroke-linecap="round" opacity="0.41"/>
<path d="M158.0,703.0 Q102.5,650.1 118.0,575.0" fill="none" stroke="#acd0f2" stroke-width="0.70" stroke-linecap="round" opacity="0.40"/>
<path d="M265.0,440.0 Q117.2,494.7 33.0,628.0" fill="none" stroke="#a8e8f0" stroke-width="0.70" stroke-linecap="round" opacity="0.24"/>
<path d="M207.0,507.0 Q242.6,497.9 264.0,468.0" fill="none" stroke="#a4dcb0" stroke-width="0.70" stroke-linecap="round" opacity="0.42"/>
<path d="M291.0,624.0 Q263.9,656.8 227.0,678.0" fill="none" stroke="#dede98" stroke-width="0.70" stroke-linecap="round" opacity="0.44"/>
<path d="M80.0,690.0 Q137.7,550.6 264.0,468.0" fill="none" stroke="#d2bcf2" stroke-width="0.70" stroke-linecap="round" opacity="0.35"/>
<path d="M215.0,455.0 Q210.4,494.8 183.0,524.0" fill="none" stroke="#dede98" stroke-width="0.70" stroke-linecap="round" opacity="0.37"/>
<path d="M116.0,702.0 Q157.1,627.7 123.0,550.0" fill="none" stroke="#d2bcf2" stroke-width="0.70" stroke-linecap="round" opacity="0.25"/>
<path d="M232.0,359.0 Q242.6,367.3 256.0,367.0" fill="none" stroke="#a4dcb0" stroke-width="0.70" stroke-linecap="round" opacity="0.40"/>
<path d="M123.0,493.0 Q208.6,554.4 270.0,640.0" fill="none" stroke="#d2bcf2" stroke-width="0.70" stroke-linecap="round" opacity="0.28"/>
<path d="M207.0,507.0 Q215.9,484.3 238.0,474.0" fill="none" stroke="#a4dcb0" stroke-width="0.70" stroke-linecap="round" opacity="0.44"/>
<path d="M285.0,573.0 Q191.7,505.6 79.0,529.0" fill="none" stroke="#dede98" stroke-width="0.70" stroke-linecap="round" opacity="0.35"/>
<path d="M80.0,690.0 Q100.0,511.3 265.0,440.0" fill="none" stroke="#d2bcf2" stroke-width="0.70" stroke-linecap="round" opacity="0.43"/>
<path d="M115.0,609.0 Q186.8,653.0 270.0,640.0" fill="none" stroke="#f2a4a4" stroke-width="0.70" stroke-linecap="round" opacity="0.42"/>
<path d="M215.0,455.0 Q268.1,564.0 227.0,678.0" fill="none" stroke="#dede98" stroke-width="0.70" stroke-linecap="round" opacity="0.44"/>
<path d="M171.0,713.0 Q147.7,554.9 238.0,423.0" fill="none" stroke="#acd0f2" stroke-width="0.70" stroke-linecap="round" opacity="0.30"/>
<path d="M123.0,493.0 Q141.1,425.6 201.0,390.0" fill="none" stroke="#d2bcf2" stroke-width="0.70" stroke-linecap="round" opacity="0.37"/>
<path d="M216.0,354.0 Q202.7,343.0 186.0,347.0" fill="none" stroke="#f2a4a4" stroke-width="0.70" stroke-linecap="round" opacity="0.37"/>
<path d="M171.0,713.0 Q280.9,598.2 265.0,440.0" fill="none" stroke="#acd0f2" stroke-width="0.70" stroke-linecap="round" opacity="0.43"/>
<path d="M281.0,799.0 Q210.8,762.2 158.0,703.0" fill="none" stroke="#d2bcf2" stroke-width="0.70" stroke-linecap="round" opacity="0.24"/>
<path d="M277.0,778.0 Q225.2,818.7 201.0,880.0" fill="none" stroke="#d2bcf2" stroke-width="0.70" stroke-linecap="round" opacity="0.23"/>
<path d="M79.0,529.0 Q108.3,709.0 277.0,778.0" fill="none" stroke="#f2a4a4" stroke-width="0.70" stroke-linecap="round" opacity="0.45"/>
<path d="M232.0,359.0 Q174.3,499.8 246.0,634.0" fill="none" stroke="#a4dcb0" stroke-width="0.70" stroke-linecap="round" opacity="0.36"/>
<path d="M288.0,279.0 Q184.8,356.3 145.0,479.0" fill="none" stroke="#a4dcb0" stroke-width="0.70" stroke-linecap="round" opacity="0.25"/>
<path d="M160.0,866.0 Q73.0,730.0 118.0,575.0" fill="none" stroke="#acd0f2" stroke-width="0.70" stroke-linecap="round" opacity="0.36"/>
<path d="M291.0,624.0 Q234.0,635.7 188.0,600.0" fill="none" stroke="#dede98" stroke-width="0.70" stroke-linecap="round" opacity="0.40"/>
<path d="M118.0,575.0 Q134.9,445.8 232.0,359.0" fill="none" stroke="#f2a4a4" stroke-width="0.70" stroke-linecap="round" opacity="0.40"/>
<path d="M227.0,678.0 Q297.1,613.0 323.0,521.0" fill="none" stroke="#dede98" stroke-width="0.70" stroke-linecap="round" opacity="0.37"/>
<path d="M265.0,440.0 Q258.4,395.5 232.0,359.0" fill="none" stroke="#a8e8f0" stroke-width="0.70" stroke-linecap="round" opacity="0.34"/>
<path d="M123.0,493.0 Q245.1,411.0 242.0,264.0" fill="none" stroke="#d2bcf2" stroke-width="0.70" stroke-linecap="round" opacity="0.36"/>
<path d="M186.0,347.0 Q187.6,370.6 201.0,390.0" fill="none" stroke="#f2a4a4" stroke-width="0.70" stroke-linecap="round" opacity="0.36"/>
<path d="M79.0,529.0 Q217.4,475.2 281.0,341.0" fill="none" stroke="#f2a4a4" stroke-width="0.70" stroke-linecap="round" opacity="0.39"/>
<path d="M64.0,703.0 Q70.6,645.7 115.0,609.0" fill="none" stroke="#d2bcf2" stroke-width="0.70" stroke-linecap="round" opacity="0.33"/>
<path d="M323.0,521.0 Q268.1,405.4 288.0,279.0" fill="none" stroke="#a4dcb0" stroke-width="0.70" stroke-linecap="round" opacity="0.39"/>
<path d="M183.0,524.0 Q148.4,526.3 123.0,550.0" fill="none" stroke="#f2a4a4" stroke-width="0.70" stroke-linecap="round" opacity="0.32"/>
<path d="M270.0,640.0 Q170.0,658.4 78.0,615.0" fill="none" stroke="#acd0f2" stroke-width="0.70" stroke-linecap="round" opacity="0.29"/>
<path d="M33.0,628.0 Q73.3,709.7 161.0,734.0" fill="none" stroke="#f2a4a4" stroke-width="0.70" stroke-linecap="round" opacity="0.33"/>
<path d="M157.0,475.0 Q185.5,507.1 184.0,550.0" fill="none" stroke="#a4dcb0" stroke-width="0.70" stroke-linecap="round" opacity="0.35"/>
<path d="M179.0,899.0 Q157.2,780.1 64.0,703.0" fill="none" stroke="#acd0f2" stroke-width="0.70" stroke-linecap="round" opacity="0.24"/>
<path d="M246.0,634.0 Q195.4,606.4 184.0,550.0" fill="none" stroke="#dede98" stroke-width="0.70" stroke-linecap="round" opacity="0.39"/>
<path d="M116.0,702.0 Q168.8,594.3 157.0,475.0" fill="none" stroke="#d2bcf2" stroke-width="0.70" stroke-linecap="round" opacity="0.27"/>
<path d="M80.0,690.0 Q165.1,763.9 277.0,778.0" fill="none" stroke="#d2bcf2" stroke-width="0.70" stroke-linecap="round" opacity="0.29"/>
<path d="M160.0,866.0 Q160.7,693.1 285.0,573.0" fill="none" stroke="#acd0f2" stroke-width="0.70" stroke-linecap="round" opacity="0.32"/>
<path d="M157.0,475.0 Q241.5,428.8 281.0,341.0" fill="none" stroke="#a4dcb0" stroke-width="0.70" stroke-linecap="round" opacity="0.24"/>
<path d="M206.0,652.0 Q163.3,501.4 216.0,354.0" fill="none" stroke="#acd0f2" stroke-width="0.70" stroke-linecap="round" opacity="0.35"/>
<path d="M285.0,573.0 Q225.3,592.3 206.0,652.0" fill="none" stroke="#dede98" stroke-width="0.70" stroke-linecap="round" opacity="0.41"/>
<path d="M285.0,573.0 Q165.5,630.5 33.0,628.0" fill="none" stroke="#dede98" stroke-width="0.70" stroke-linecap="round" opacity="0.42"/>
<path d="M238.0,423.0 Q235.9,385.7 216.0,354.0" fill="none" stroke="#a4dcb0" stroke-width="0.70" stroke-linecap="round" opacity="0.35"/>
<path d="M285.0,573.0 Q217.6,511.8 238.0,423.0" fill="none" stroke="#dede98" stroke-width="0.70" stroke-linecap="round" opacity="0.23"/>
<path d="M215.0,455.0 Q236.2,473.9 264.0,468.0" fill="none" stroke="#dede98" stroke-width="0.70" stroke-linecap="round" opacity="0.30"/>
<path d="M79.0,529.0 Q123.3,509.7 157.0,475.0" fill="none" stroke="#f2a4a4" stroke-width="0.70" stroke-linecap="round" opacity="0.24"/>
<path d="M123.0,493.0 Q109.7,618.6 161.0,734.0" fill="none" stroke="#d2bcf2" stroke-width="0.70" stroke-linecap="round" opacity="0.33"/>
<path d="M158.0,703.0 Q212.4,586.5 323.0,521.0" fill="none" stroke="#acd0f2" stroke-width="0.70" stroke-linecap="round" opacity="0.37"/>
<path d="M215.0,455.0 Q215.0,622.4 277.0,778.0" fill="none" stroke="#dede98" stroke-width="0.70" stroke-linecap="round" opacity="0.31"/>
<path d="M80.0,690.0 Q156.2,540.4 323.0,521.0" fill="none" stroke="#d2bcf2" stroke-width="0.70" stroke-linecap="round" opacity="0.41"/>
<path d="M291.0,624.0 Q306.2,474.4 216.0,354.0" fill="none" stroke="#dede98" stroke-width="0.70" stroke-linecap="round" opacity="0.40"/>
<path d="M78.0,615.0 Q92.8,449.6 232.0,359.0" fill="none" stroke="#f2a4a4" stroke-width="0.70" stroke-linecap="round" opacity="0.38"/>
<path d="M157.0,475.0 Q190.0,355.3 288.0,279.0" fill="none" stroke="#a4dcb0" stroke-width="0.70" stroke-linecap="round" opacity="0.28"/>
<path d="M264.0,468.0 Q237.9,624.4 277.0,778.0" fill="none" stroke="#a4dcb0" stroke-width="0.70" stroke-linecap="round" opacity="0.40"/>
<path d="M33.0,628.0 Q125.6,581.0 145.0,479.0" fill="none" stroke="#f2a4a4" stroke-width="0.70" stroke-linecap="round" opacity="0.35"/>
<path d="M191.0,442.0 Q170.6,455.0 157.0,475.0" fill="none" stroke="#f2a4a4" stroke-width="0.70" stroke-linecap="round" opacity="0.30"/>
<path d="M188.0,600.0 Q158.9,470.2 232.0,359.0" fill="none" stroke="#dede98" stroke-width="0.70" stroke-linecap="round" opacity="0.36"/>
<path d="M33.0,628.0 Q76.9,480.7 201.0,390.0" fill="none" stroke="#f2a4a4" stroke-width="0.70" stroke-linecap="round" opacity="0.36"/>
<path d="M158.0,703.0 Q226.6,616.0 207.0,507.0" fill="none" stroke="#acd0f2" stroke-width="0.70" stroke-linecap="round" opacity="0.33"/>
<path d="M145.0,479.0 Q158.8,337.8 288.0,279.0" fill="none" stroke="#f2a4a4" stroke-width="0.70" stroke-linecap="round" opacity="0.44"/>
<path d="M201.0,390.0 Q153.0,421.9 145.0,479.0" fill="none" stroke="#a4dcb0" stroke-width="0.70" stroke-linecap="round" opacity="0.43"/>
<path d="M201.0,880.0 Q244.3,766.9 206.0,652.0" fill="none" stroke="#acd0f2" stroke-width="0.70" stroke-linecap="round" opacity="0.38"/>
<path d="M246.0,634.0 Q176.2,644.0 115.0,609.0" fill="none" stroke="#dede98" stroke-width="0.70" stroke-linecap="round" opacity="0.25"/>
<path d="M291.0,624.0 Q338.2,714.5 281.0,799.0" fill="none" stroke="#dede98" stroke-width="0.70" stroke-linecap="round" opacity="0.34"/>
<path d="M145.0,479.0 Q83.5,533.2 78.0,615.0" fill="none" stroke="#f2a4a4" stroke-width="0.70" stroke-linecap="round" opacity="0.22"/>
<path d="M78.0,615.0 Q94.1,591.1 118.0,575.0" fill="none" stroke="#f2a4a4" stroke-width="0.70" stroke-linecap="round" opacity="0.36"/>
<path d="M201.0,880.0 Q125.9,806.6 116.0,702.0" fill="none" stroke="#acd0f2" stroke-width="0.70" stroke-linecap="round" opacity="0.22"/>
<path d="M184.0,550.0 Q211.8,711.0 160.0,866.0" fill="none" stroke="#f2a4a4" stroke-width="0.70" stroke-linecap="round" opacity="0.34"/>
<path d="M115.0,609.0 Q168.4,516.2 264.0,468.0" fill="none" stroke="#f2a4a4" stroke-width="0.70" stroke-linecap="round" opacity="0.24"/>
<path d="M80.0,690.0 Q142.5,701.8 205.0,690.0" fill="none" stroke="#d2bcf2" stroke-width="0.70" stroke-linecap="round" opacity="0.38"/>
<path d="M79.0,529.0 Q106.3,609.3 80.0,690.0" fill="none" stroke="#f2a4a4" stroke-width="0.70" stroke-linecap="round" opacity="0.39"/>
<path d="M123.0,550.0 Q112.9,521.5 123.0,493.0" fill="none" stroke="#f2a4a4" stroke-width="0.70" stroke-linecap="round" opacity="0.38"/>
<path d="M238.0,423.0 Q245.8,502.9 285.0,573.0" fill="none" stroke="#a4dcb0" stroke-width="0.70" stroke-linecap="round" opacity="0.42"/>
<path d="M227.0,678.0 Q143.4,667.9 78.0,615.0" fill="none" stroke="#dede98" stroke-width="0.70" stroke-linecap="round" opacity="0.44"/>
<path d="M207.0,507.0 Q247.1,483.1 265.0,440.0" fill="none" stroke="#a4dcb0" stroke-width="0.70" stroke-linecap="round" opacity="0.28"/>
<path d="M277.0,778.0 Q165.2,687.5 123.0,550.0" fill="none" stroke="#d2bcf2" stroke-width="0.70" stroke-linecap="round" opacity="0.35"/>
<path d="M277.0,778.0 Q260.4,698.9 291.0,624.0" fill="none" stroke="#d2bcf2" stroke-width="0.70" stroke-linecap="round" opacity="0.24"/>
<path d="M78.0,615.0 Q146.2,661.5 227.0,678.0" fill="none" stroke="#f2a4a4" stroke-width="0.70" stroke-linecap="round" opacity="0.26"/>
<path d="M158.0,703.0 Q243.4,581.2 191.0,442.0" fill="none" stroke="#acd0f2" stroke-width="0.70" stroke-linecap="round" opacity="0.24"/>
<path d="M191.0,442.0 Q202.6,548.1 115.0,609.0" fill="none" stroke="#f2a4a4" stroke-width="0.70" stroke-linecap="round" opacity="0.31"/>
<path d="M183.0,524.0 Q190.2,508.7 207.0,507.0" fill="none" stroke="#f2a4a4" stroke-width="0.70" stroke-linecap="round" opacity="0.43"/>
<path d="M118.0,575.0 Q130.8,534.6 123.0,493.0" fill="none" stroke="#f2a4a4" stroke-width="0.70" stroke-linecap="round" opacity="0.41"/>
<path d="M270.0,640.0 Q272.2,770.6 201.0,880.0" fill="none" stroke="#acd0f2" stroke-width="0.70" stroke-linecap="round" opacity="0.36"/>
<path d="M277.0,778.0 Q201.4,766.1 158.0,703.0" fill="none" stroke="#d2bcf2" stroke-width="0.70" stroke-linecap="round" opacity="0.45"/>
<path d="M246.0,634.0 Q248.3,791.5 199.0,941.0" fill="none" stroke="#dede98" stroke-width="0.70" stroke-linecap="round" opacity="0.26"/>
<path d="M264.0,468.0 Q197.9,505.5 123.0,493.0" fill="none" stroke="#a4dcb0" stroke-width="0.70" stroke-linecap="round" opacity="0.27"/>
<path d="M207.0,507.0 Q244.5,473.1 238.0,423.0" fill="none" stroke="#a4dcb0" stroke-width="0.70" stroke-linecap="round" opacity="0.28"/>
<path d="M215.0,455.0 Q242.1,451.7 264.0,468.0" fill="none" stroke="#dede98" stroke-width="0.70" stroke-linecap="round" opacity="0.36"/>
<path d="M191.0,923.0 Q198.0,745.7 78.0,615.0" fill="none" stroke="#acd0f2" stroke-width="0.70" stroke-linecap="round" opacity="0.45"/>
<path d="M199.0,941.0 Q261.1,816.9 205.0,690.0" fill="none" stroke="#acd0f2" stroke-width="0.70" stroke-linecap="round" opacity="0.35"/>
<path d="M216.0,354.0 Q192.7,505.9 291.0,624.0" fill="none" stroke="#f2a4a4" stroke-width="0.70" stroke-linecap="round" opacity="0.25"/>
<path d="M201.0,880.0 Q190.2,712.1 285.0,573.0" fill="none" stroke="#acd0f2" stroke-width="0.70" stroke-linecap="round" opacity="0.30"/>
<path d="M206.0,652.0 Q251.1,520.1 201.0,390.0" fill="none" stroke="#acd0f2" stroke-width="0.70" stroke-linecap="round" opacity="0.32"/>
<path d="M277.0,778.0 Q224.4,655.4 118.0,575.0" fill="none" stroke="#d2bcf2" stroke-width="0.70" stroke-linecap="round" opacity="0.35"/>
<path d="M256.0,367.0 Q253.3,527.5 115.0,609.0" fill="none" stroke="#a4dcb0" stroke-width="0.70" stroke-linecap="round" opacity="0.36"/>
<path d="M123.0,550.0 Q125.4,439.5 186.0,347.0" fill="none" stroke="#f2a4a4" stroke-width="0.70" stroke-linecap="round" opacity="0.28"/>
<path d="M285.0,573.0 Q224.7,591.7 206.0,652.0" fill="none" stroke="#dede98" stroke-width="0.70" stroke-linecap="round" opacity="0.36"/>
<path d="M191.0,442.0 Q143.3,568.6 158.0,703.0" fill="none" stroke="#f2a4a4" stroke-width="0.70" stroke-linecap="round" opacity="0.29"/>
<path d="M80.0,690.0 Q150.0,800.7 281.0,799.0" fill="none" stroke="#d2bcf2" stroke-width="0.70" stroke-linecap="round" opacity="0.26"/>
<path d="M171.0,713.0 Q184.1,796.8 168.0,880.0" fill="none" stroke="#acd0f2" stroke-width="0.70" stroke-linecap="round" opacity="0.25"/>
<path d="M158.0,703.0 Q107.0,646.3 33.0,628.0" fill="none" stroke="#acd0f2" stroke-width="0.70" stroke-linecap="round" opacity="0.28"/>
<path d="M285.0,573.0 Q252.1,532.8 207.0,507.0" fill="none" stroke="#dede98" stroke-width="0.70" stroke-linecap="round" opacity="0.39"/>
<path d="M78.0,615.0 Q92.4,682.3 158.0,703.0" fill="none" stroke="#f2a4a4" stroke-width="0.70" stroke-linecap="round" opacity="0.33"/>
<path d="M171.0,713.0 Q189.2,679.8 227.0,678.0" fill="none" stroke="#acd0f2" stroke-width="0.70" stroke-linecap="round" opacity="0.39"/>
<path d="M179.0,899.0 Q168.5,892.4 168.0,880.0" fill="none" stroke="#acd0f2" stroke-width="0.70" stroke-linecap="round" opacity="0.41"/>
<path d="M123.0,550.0 Q206.4,544.5 285.0,573.0" fill="none" stroke="#f2a4a4" stroke-width="0.70" stroke-linecap="round" opacity="0.34"/>
<path d="M161.0,734.0 Q160.1,720.7 171.0,713.0" fill="none" stroke="#acd0f2" stroke-width="0.70" stroke-linecap="round" opacity="0.43"/>
<path d="M227.0,678.0 Q207.5,721.9 161.0,734.0" fill="none" stroke="#dede98" stroke-width="0.70" stroke-linecap="round" opacity="0.39"/>
<path d="M264.0,468.0 Q190.0,513.3 188.0,600.0" fill="none" stroke="#a4dcb0" stroke-width="0.70" stroke-linecap="round" opacity="0.25"/>
<path d="M191.0,923.0 Q109.8,822.7 158.0,703.0" fill="none" stroke="#acd0f2" stroke-width="0.70" stroke-linecap="round" opacity="0.38"/>
<path d="M215.0,455.0 Q236.6,472.5 264.0,468.0" fill="none" stroke="#dede98" stroke-width="0.70" stroke-linecap="round" opacity="0.42"/>
<path d="M277.0,778.0 Q164.3,765.7 80.0,690.0" fill="none" stroke="#d2bcf2" stroke-width="0.70" stroke-linecap="round" opacity="0.35"/>
<path d="M115.0,609.0 Q138.3,438.0 281.0,341.0" fill="none" stroke="#f2a4a4" stroke-width="0.70" stroke-linecap="round" opacity="0.35"/>
<path d="M183.0,524.0 Q130.0,506.3 79.0,529.0" fill="none" stroke="#f2a4a4" stroke-width="0.70" stroke-linecap="round" opacity="0.25"/>
<path d="M215.0,455.0 Q215.9,534.2 285.0,573.0" fill="none" stroke="#dede98" stroke-width="0.70" stroke-linecap="round" opacity="0.29"/>
<path d="M277.0,778.0 Q296.9,621.9 264.0,468.0" fill="none" stroke="#d2bcf2" stroke-width="0.70" stroke-linecap="round" opacity="0.23"/>
<path d="M160.0,866.0 Q192.1,897.0 199.0,941.0" fill="none" stroke="#acd0f2" stroke-width="0.70" stroke-linecap="round" opacity="0.38"/>
<path d="M281.0,341.0 Q250.9,404.8 191.0,442.0" fill="none" stroke="#a4dcb0" stroke-width="0.70" stroke-linecap="round" opacity="0.43"/>
<path d="M264.0,468.0 Q211.8,491.8 157.0,475.0" fill="none" stroke="#a4dcb0" stroke-width="0.70" stroke-linecap="round" opacity="0.42"/>
<path d="M242.0,264.0 Q197.2,342.4 238.0,423.0" fill="none" stroke="#f2a4a4" stroke-width="0.70" stroke-linecap="round" opacity="0.26"/>
<path d="M216.0,354.0 Q64.3,450.8 33.0,628.0" fill="none" stroke="#f2a4a4" stroke-width="0.70" stroke-linecap="round" opacity="0.34"/>
<path d="M232.0,359.0 Q264.4,314.4 242.0,264.0" fill="none" stroke="#a4dcb0" stroke-width="0.70" stroke-linecap="round" opacity="0.37"/>
<path d="M264.0,468.0 Q351.1,619.6 277.0,778.0" fill="none" stroke="#a4dcb0" stroke-width="0.70" stroke-linecap="round" opacity="0.42"/>
<path d="M205.0,690.0 Q143.8,645.9 118.0,575.0" fill="none" stroke="#d2bcf2" stroke-width="0.70" stroke-linecap="round" opacity="0.32"/>
<path d="M115.0,609.0 Q270.2,519.7 281.0,341.0" fill="none" stroke="#f2a4a4" stroke-width="0.70" stroke-linecap="round" opacity="0.38"/>
<path d="M242.0,264.0 Q206.4,322.1 201.0,390.0" fill="none" stroke="#f2a4a4" stroke-width="0.70" stroke-linecap="round" opacity="0.34"/>
<path d="M238.0,423.0 Q224.8,400.5 201.0,390.0" fill="none" stroke="#a4dcb0" stroke-width="0.70" stroke-linecap="round" opacity="0.36"/>
<path d="M281.0,341.0 Q237.3,399.8 264.0,468.0" fill="none" stroke="#a4dcb0" stroke-width="0.70" stroke-linecap="round" opacity="0.37"/>
<path d="M201.0,390.0 Q118.7,464.2 118.0,575.0" fill="none" stroke="#a4dcb0" stroke-width="0.70" stroke-linecap="round" opacity="0.33"/>
<path d="M186.0,347.0 Q276.0,478.0 246.0,634.0" fill="none" stroke="#f2a4a4" stroke-width="0.70" stroke-linecap="round" opacity="0.32"/>
<path d="M285.0,573.0 Q237.2,549.8 184.0,550.0" fill="none" stroke="#dede98" stroke-width="0.70" stroke-linecap="round" opacity="0.28"/>
<path d="M238.0,474.0 Q241.5,411.3 216.0,354.0" fill="none" stroke="#dede98" stroke-width="0.70" stroke-linecap="round" opacity="0.45"/>
<path d="M191.0,442.0 Q251.8,553.5 227.0,678.0" fill="none" stroke="#f2a4a4" stroke-width="0.70" stroke-linecap="round" opacity="0.22"/>
<path d="M33.0,628.0 Q87.0,545.7 183.0,524.0" fill="none" stroke="#f2a4a4" stroke-width="0.70" stroke-linecap="round" opacity="0.29"/>
<path d="M191.0,923.0 Q309.9,796.6 291.0,624.0" fill="none" stroke="#acd0f2" stroke-width="0.70" stroke-linecap="round" opacity="0.36"/>
<path d="M374.0,580.0 Q247.5,621.6 115.0,609.0" fill="none" stroke="#a8e8f0" stroke-width="0.70" stroke-linecap="round" opacity="0.27"/>
<path d="M374.0,580.0 Q368.9,443.6 256.0,367.0" fill="none" stroke="#a8e8f0" stroke-width="0.70" stroke-linecap="round" opacity="0.28"/>
<path d="M215.0,455.0 Q217.5,380.3 281.0,341.0" fill="none" stroke="#dede98" stroke-width="0.70" stroke-linecap="round" opacity="0.28"/>
<path d="M205.0,690.0 Q218.5,572.1 145.0,479.0" fill="none" stroke="#d2bcf2" stroke-width="0.70" stroke-linecap="round" opacity="0.29"/>
<path d="M246.0,634.0 Q171.1,500.4 216.0,354.0" fill="none" stroke="#dede98" stroke-width="0.70" stroke-linecap="round" opacity="0.34"/>
<path d="M216.0,354.0 Q181.6,435.5 183.0,524.0" fill="none" stroke="#f2a4a4" stroke-width="0.70" stroke-linecap="round" opacity="0.35"/>
<path d="M215.0,455.0 Q164.6,520.6 188.0,600.0" fill="none" stroke="#dede98" stroke-width="0.70" stroke-linecap="round" opacity="0.36"/>
<path d="M145.0,479.0 Q202.6,452.8 264.0,468.0" fill="none" stroke="#f2a4a4" stroke-width="0.70" stroke-linecap="round" opacity="0.41"/>
<path d="M281.0,799.0 Q275.7,890.6 199.0,941.0" fill="none" stroke="#d2bcf2" stroke-width="0.70" stroke-linecap="round" opacity="0.24"/>
<path d="M191.0,923.0 Q204.3,753.6 115.0,609.0" fill="none" stroke="#acd0f2" stroke-width="0.70" stroke-linecap="round" opacity="0.26"/>
<path d="M116.0,702.0 Q94.8,705.5 80.0,690.0" fill="none" stroke="#d2bcf2" stroke-width="0.70" stroke-linecap="round" opacity="0.23"/>
<path d="M171.0,713.0 Q142.8,796.0 168.0,880.0" fill="none" stroke="#acd0f2" stroke-width="0.70" stroke-linecap="round" opacity="0.38"/>
<path d="M191.0,442.0 Q129.5,494.8 118.0,575.0" fill="none" stroke="#f2a4a4" stroke-width="0.70" stroke-linecap="round" opacity="0.25"/>
<path d="M168.0,880.0 Q168.6,918.1 199.0,941.0" fill="none" stroke="#acd0f2" stroke-width="0.70" stroke-linecap="round" opacity="0.22"/>
<path d="M171.0,713.0 Q210.3,823.9 199.0,941.0" fill="none" stroke="#acd0f2" stroke-width="0.70" stroke-linecap="round" opacity="0.35"/>
<path d="M201.0,880.0 Q222.7,795.6 161.0,734.0" fill="none" stroke="#acd0f2" stroke-width="0.70" stroke-linecap="round" opacity="0.38"/>
<path d="M205.0,690.0 Q308.7,582.7 265.0,440.0" fill="none" stroke="#d2bcf2" stroke-width="0.70" stroke-linecap="round" opacity="0.29"/>
<path d="M123.0,550.0 Q160.1,481.2 238.0,474.0" fill="none" stroke="#f2a4a4" stroke-width="0.70" stroke-linecap="round" opacity="0.33"/>
<path d="M281.0,341.0 Q197.5,485.4 206.0,652.0" fill="none" stroke="#a4dcb0" stroke-width="0.70" stroke-linecap="round" opacity="0.23"/>
<path d="M158.0,703.0 Q196.0,658.2 188.0,600.0" fill="none" stroke="#acd0f2" stroke-width="0.70" stroke-linecap="round" opacity="0.39"/>
<path d="M285.0,573.0 Q164.3,590.1 116.0,702.0" fill="none" stroke="#dede98" stroke-width="0.70" stroke-linecap="round" opacity="0.33"/>
<path d="M145.0,479.0 Q250.9,403.6 288.0,279.0" fill="none" stroke="#f2a4a4" stroke-width="0.70" stroke-linecap="round" opacity="0.26"/>
<path d="M238.0,474.0 Q201.6,564.3 115.0,609.0" fill="none" stroke="#dede98" stroke-width="0.70" stroke-linecap="round" opacity="0.27"/>
<path d="M160.0,866.0 Q159.6,888.2 179.0,899.0" fill="none" stroke="#acd0f2" stroke-width="0.70" stroke-linecap="round" opacity="0.42"/>
<path d="M288.0,279.0 Q222.6,355.0 215.0,455.0" fill="none" stroke="#a4dcb0" stroke-width="0.70" stroke-linecap="round" opacity="0.23"/>
<path d="M201.0,390.0 Q127.9,522.4 206.0,652.0" fill="none" stroke="#a4dcb0" stroke-width="0.70" stroke-linecap="round" opacity="0.34"/>
<path d="M191.0,923.0 Q219.6,806.2 158.0,703.0" fill="none" stroke="#acd0f2" stroke-width="0.70" stroke-linecap="round" opacity="0.28"/>
<path d="M206.0,652.0 Q155.8,572.4 145.0,479.0" fill="none" stroke="#acd0f2" stroke-width="0.70" stroke-linecap="round" opacity="0.25"/>
<path d="M123.0,550.0 Q110.8,424.1 216.0,354.0" fill="none" stroke="#f2a4a4" stroke-width="0.70" stroke-linecap="round" opacity="0.32"/>
<path d="M270.0,640.0 Q236.0,542.1 157.0,475.0" fill="none" stroke="#acd0f2" stroke-width="0.70" stroke-linecap="round" opacity="0.29"/>
<path d="M246.0,634.0 Q290.5,493.9 232.0,359.0" fill="none" stroke="#dede98" stroke-width="0.70" stroke-linecap="round" opacity="0.25"/>
<path d="M246.0,634.0 Q176.9,615.6 118.0,575.0" fill="none" stroke="#dede98" stroke-width="0.70" stroke-linecap="round" opacity="0.31"/>
<path d="M116.0,702.0 Q92.4,638.1 118.0,575.0" fill="none" stroke="#d2bcf2" stroke-width="0.70" stroke-linecap="round" opacity="0.29"/>
<path d="M160.0,866.0 Q148.7,765.0 80.0,690.0" fill="none" stroke="#acd0f2" stroke-width="0.70" stroke-linecap="round" opacity="0.41"/>
<path d="M215.0,455.0 Q168.0,570.7 205.0,690.0" fill="none" stroke="#dede98" stroke-width="0.70" stroke-linecap="round" opacity="0.31"/>
<path d="M323.0,521.0 Q283.5,435.3 281.0,341.0" fill="none" stroke="#a4dcb0" stroke-width="0.70" stroke-linecap="round" opacity="0.30"/>
<path d="M191.0,442.0 Q182.0,391.9 216.0,354.0" fill="none" stroke="#f2a4a4" stroke-width="0.70" stroke-linecap="round" opacity="0.35"/>
<path d="M264.0,468.0 Q121.5,537.1 80.0,690.0" fill="none" stroke="#a4dcb0" stroke-width="0.70" stroke-linecap="round" opacity="0.35"/>
<path d="M323.0,521.0 Q219.6,631.5 80.0,690.0" fill="none" stroke="#a4dcb0" stroke-width="0.70" stroke-linecap="round" opacity="0.27"/>
<path d="M291.0,624.0 Q247.9,499.0 256.0,367.0" fill="none" stroke="#dede98" stroke-width="0.70" stroke-linecap="round" opacity="0.25"/>
<path d="M179.0,899.0 Q150.8,743.6 270.0,640.0" fill="none" stroke="#acd0f2" stroke-width="0.70" stroke-linecap="round" opacity="0.33"/>
<path d="M201.0,390.0 Q235.4,356.3 281.0,341.0" fill="none" stroke="#a4dcb0" stroke-width="0.70" stroke-linecap="round" opacity="0.27"/>
<path d="M374.0,580.0 Q239.9,553.8 115.0,609.0" fill="none" stroke="#a8e8f0" stroke-width="0.70" stroke-linecap="round" opacity="0.34"/>
<path d="M281.0,799.0 Q325.7,632.3 207.0,507.0" fill="none" stroke="#d2bcf2" stroke-width="0.70" stroke-linecap="round" opacity="0.33"/>
<path d="M238.0,474.0 Q252.4,477.1 264.0,468.0" fill="none" stroke="#dede98" stroke-width="0.70" stroke-linecap="round" opacity="0.43"/>
<path d="M123.0,550.0 Q193.1,577.7 206.0,652.0" fill="none" stroke="#f2a4a4" stroke-width="0.70" stroke-linecap="round" opacity="0.28"/>
<path d="M270.0,640.0 Q293.5,793.7 179.0,899.0" fill="none" stroke="#acd0f2" stroke-width="0.70" stroke-linecap="round" opacity="0.33"/>
<path d="M157.0,475.0 Q216.9,430.5 256.0,367.0" fill="none" stroke="#a4dcb0" stroke-width="0.70" stroke-linecap="round" opacity="0.30"/>
<path d="M206.0,652.0 Q257.0,624.0 285.0,573.0" fill="none" stroke="#acd0f2" stroke-width="0.70" stroke-linecap="round" opacity="0.37"/>
<path d="M270.0,640.0 Q254.4,665.7 227.0,678.0" fill="none" stroke="#acd0f2" stroke-width="0.70" stroke-linecap="round" opacity="0.23"/>
<path d="M374.0,580.0 Q266.3,593.6 183.0,524.0" fill="none" stroke="#a8e8f0" stroke-width="0.70" stroke-linecap="round" opacity="0.36"/>
<path d="M183.0,524.0 Q179.3,455.3 201.0,390.0" fill="none" stroke="#f2a4a4" stroke-width="0.70" stroke-linecap="round" opacity="0.42"/>
<path d="M191.0,442.0 Q185.1,525.3 118.0,575.0" fill="none" stroke="#f2a4a4" stroke-width="0.70" stroke-linecap="round" opacity="0.29"/>
<path d="M206.0,652.0 Q136.3,764.5 201.0,880.0" fill="none" stroke="#acd0f2" stroke-width="0.70" stroke-linecap="round" opacity="0.36"/>
<path d="M201.0,390.0 Q247.7,376.4 281.0,341.0" fill="none" stroke="#a4dcb0" stroke-width="0.70" stroke-linecap="round" opacity="0.27"/>
<path d="M186.0,347.0 Q168.6,409.6 215.0,455.0" fill="none" stroke="#f2a4a4" stroke-width="0.70" stroke-linecap="round" opacity="0.28"/>
<path d="M265.0,440.0 Q254.8,459.6 238.0,474.0" fill="none" stroke="#a8e8f0" stroke-width="0.70" stroke-linecap="round" opacity="0.28"/>
<path d="M79.0,529.0 Q173.6,461.9 216.0,354.0" fill="none" stroke="#f2a4a4" stroke-width="0.70" stroke-linecap="round" opacity="0.38"/>
<path d="M64.0,703.0 Q117.0,670.9 115.0,609.0" fill="none" stroke="#d2bcf2" stroke-width="0.70" stroke-linecap="round" opacity="0.26"/>
<path d="M227.0,678.0 Q176.0,710.9 116.0,702.0" fill="none" stroke="#dede98" stroke-width="0.70" stroke-linecap="round" opacity="0.30"/>
<path d="M238.0,423.0 Q278.1,545.3 206.0,652.0" fill="none" stroke="#a4dcb0" stroke-width="0.70" stroke-linecap="round" opacity="0.27"/>
<path d="M232.0,359.0 Q174.6,501.6 206.0,652.0" fill="none" stroke="#a4dcb0" stroke-width="0.70" stroke-linecap="round" opacity="0.43"/>
<path d="M281.0,799.0 Q260.7,642.5 118.0,575.0" fill="none" stroke="#d2bcf2" stroke-width="0.70" stroke-linecap="round" opacity="0.41"/>
<path d="M205.0,690.0 Q211.2,572.8 264.0,468.0" fill="none" stroke="#d2bcf2" stroke-width="0.70" stroke-linecap="round" opacity="0.34"/>
<path d="M64.0,703.0 Q148.2,779.3 201.0,880.0" fill="none" stroke="#d2bcf2" stroke-width="0.70" stroke-linecap="round" opacity="0.42"/>
<path d="M145.0,479.0 Q239.7,475.8 323.0,521.0" fill="none" stroke="#f2a4a4" stroke-width="0.70" stroke-linecap="round" opacity="0.28"/>
<path d="M291.0,624.0 Q232.1,501.1 256.0,367.0" fill="none" stroke="#dede98" stroke-width="0.70" stroke-linecap="round" opacity="0.26"/>
<path d="M265.0,440.0 Q319.2,365.6 288.0,279.0" fill="none" stroke="#a8e8f0" stroke-width="0.70" stroke-linecap="round" opacity="0.35"/>
<path d="M171.0,713.0 Q95.2,614.3 123.0,493.0" fill="none" stroke="#acd0f2" stroke-width="0.70" stroke-linecap="round" opacity="0.40"/>
<path d="M270.0,640.0 Q239.9,649.2 227.0,678.0" fill="none" stroke="#acd0f2" stroke-width="0.70" stroke-linecap="round" opacity="0.37"/>
<path d="M188.0,600.0 Q122.7,630.3 116.0,702.0" fill="none" stroke="#dede98" stroke-width="0.70" stroke-linecap="round" opacity="0.28"/>
<path d="M201.0,390.0 Q229.7,555.6 171.0,713.0" fill="none" stroke="#a4dcb0" stroke-width="0.70" stroke-linecap="round" opacity="0.31"/>
<path d="M64.0,703.0 Q102.6,643.9 118.0,575.0" fill="none" stroke="#d2bcf2" stroke-width="0.70" stroke-linecap="round" opacity="0.42"/>
<path d="M242.0,264.0 Q214.8,342.9 238.0,423.0" fill="none" stroke="#f2a4a4" stroke-width="0.70" stroke-linecap="round" opacity="0.31"/>
<path d="M216.0,354.0 Q188.4,404.2 215.0,455.0" fill="none" stroke="#f2a4a4" stroke-width="0.70" stroke-linecap="round" opacity="0.31"/>
<path d="M123.0,493.0 Q171.5,443.1 238.0,423.0" fill="none" stroke="#d2bcf2" stroke-width="0.70" stroke-linecap="round" opacity="0.40"/>
<path d="M285.0,573.0 Q262.2,603.1 270.0,640.0" fill="none" stroke="#dede98" stroke-width="0.70" stroke-linecap="round" opacity="0.35"/>
<path d="M78.0,615.0 Q89.3,750.2 160.0,866.0" fill="none" stroke="#f2a4a4" stroke-width="0.70" stroke-linecap="round" opacity="0.35"/>
<path d="M161.0,734.0 Q162.9,637.7 123.0,550.0" fill="none" stroke="#acd0f2" stroke-width="0.70" stroke-linecap="round" opacity="0.28"/>
<path d="M285.0,573.0 Q187.4,623.0 78.0,615.0" fill="none" stroke="#dede98" stroke-width="0.70" stroke-linecap="round" opacity="0.28"/>
<path d="M281.0,341.0 Q271.4,463.6 184.0,550.0" fill="none" stroke="#a4dcb0" stroke-width="0.70" stroke-linecap="round" opacity="0.35"/>
<path d="M238.0,474.0 Q190.9,466.0 145.0,479.0" fill="none" stroke="#dede98" stroke-width="0.70" stroke-linecap="round" opacity="0.43"/>
<path d="M264.0,468.0 Q150.4,561.1 80.0,690.0" fill="none" stroke="#a4dcb0" stroke-width="0.70" stroke-linecap="round" opacity="0.30"/>
<path d="M171.0,713.0 Q200.5,793.9 201.0,880.0" fill="none" stroke="#acd0f2" stroke-width="0.70" stroke-linecap="round" opacity="0.41"/>
<path d="M158.0,703.0 Q176.8,581.1 238.0,474.0" fill="none" stroke="#acd0f2" stroke-width="0.70" stroke-linecap="round" opacity="0.28"/>
<path d="M238.0,423.0 Q215.9,392.8 232.0,359.0" fill="none" stroke="#a4dcb0" stroke-width="0.70" stroke-linecap="round" opacity="0.35"/>
<path d="M277.0,778.0 Q246.5,612.8 145.0,479.0" fill="none" stroke="#d2bcf2" stroke-width="0.70" stroke-linecap="round" opacity="0.44"/>
<path d="M215.0,455.0 Q190.7,523.5 123.0,550.0" fill="none" stroke="#dede98" stroke-width="0.70" stroke-linecap="round" opacity="0.30"/>
<path d="M265.0,440.0 Q256.5,461.0 238.0,474.0" fill="none" stroke="#a8e8f0" stroke-width="0.70" stroke-linecap="round" opacity="0.22"/>
<path d="M288.0,279.0 Q164.2,370.9 183.0,524.0" fill="none" stroke="#a4dcb0" stroke-width="0.70" stroke-linecap="round" opacity="0.40"/>
<path d="M256.0,367.0 Q242.0,369.1 232.0,359.0" fill="none" stroke="#a4dcb0" stroke-width="0.70" stroke-linecap="round" opacity="0.31"/>
<path d="M215.0,455.0 Q89.0,538.9 80.0,690.0" fill="none" stroke="#dede98" stroke-width="0.70" stroke-linecap="round" opacity="0.44"/>
<path d="M201.0,880.0 Q132.6,802.9 158.0,703.0" fill="none" stroke="#acd0f2" stroke-width="0.70" stroke-linecap="round" opacity="0.28"/>
<path d="M227.0,678.0 Q248.1,515.1 216.0,354.0" fill="none" stroke="#dede98" stroke-width="0.70" stroke-linecap="round" opacity="0.27"/>
<path d="M270.0,640.0 Q295.8,707.9 277.0,778.0" fill="none" stroke="#acd0f2" stroke-width="0.70" stroke-linecap="round" opacity="0.41"/>
<path d="M206.0,652.0 Q242.3,619.3 291.0,624.0" fill="none" stroke="#acd0f2" stroke-width="0.70" stroke-linecap="round" opacity="0.29"/>
<path d="M183.0,524.0 Q157.7,499.5 123.0,493.0" fill="none" stroke="#f2a4a4" stroke-width="0.70" stroke-linecap="round" opacity="0.28"/>
<path d="M118.0,575.0 Q184.1,529.3 215.0,455.0" fill="none" stroke="#f2a4a4" stroke-width="0.70" stroke-linecap="round" opacity="0.26"/>
<path d="M79.0,529.0 Q88.1,572.1 78.0,615.0" fill="none" stroke="#f2a4a4" stroke-width="0.70" stroke-linecap="round" opacity="0.26"/>
<path d="M216.0,354.0 Q202.2,345.5 186.0,347.0" fill="none" stroke="#f2a4a4" stroke-width="0.70" stroke-linecap="round" opacity="0.31"/>
<path d="M157.0,475.0 Q191.3,480.4 215.0,455.0" fill="none" stroke="#a4dcb0" stroke-width="0.70" stroke-linecap="round" opacity="0.22"/>
<path d="M33.0,628.0 Q109.5,563.2 157.0,475.0" fill="none" stroke="#f2a4a4" stroke-width="0.70" stroke-linecap="round" opacity="0.35"/>
<path d="M157.0,475.0 Q111.3,605.2 161.0,734.0" fill="none" stroke="#a4dcb0" stroke-width="0.70" stroke-linecap="round" opacity="0.33"/>
<path d="M374.0,580.0 Q319.8,681.5 205.0,690.0" fill="none" stroke="#a8e8f0" stroke-width="0.70" stroke-linecap="round" opacity="0.24"/>
<path d="M270.0,640.0 Q168.3,588.5 157.0,475.0" fill="none" stroke="#acd0f2" stroke-width="0.70" stroke-linecap="round" opacity="0.34"/>
<path d="M186.0,347.0 Q196.5,507.0 78.0,615.0" fill="none" stroke="#f2a4a4" stroke-width="0.70" stroke-linecap="round" opacity="0.43"/>
<path d="M145.0,479.0 Q173.4,348.2 288.0,279.0" fill="none" stroke="#f2a4a4" stroke-width="0.70" stroke-linecap="round" opacity="0.42"/>
<path d="M205.0,690.0 Q259.4,671.9 291.0,624.0" fill="none" stroke="#d2bcf2" stroke-width="0.70" stroke-linecap="round" opacity="0.25"/>
<path d="M281.0,799.0 Q174.9,790.7 116.0,702.0" fill="none" stroke="#d2bcf2" stroke-width="0.70" stroke-linecap="round" opacity="0.37"/>
<path d="M171.0,713.0 Q206.6,657.7 270.0,640.0" fill="none" stroke="#acd0f2" stroke-width="0.70" stroke-linecap="round" opacity="0.36"/>
<path d="M285.0,573.0 Q263.3,489.3 191.0,442.0" fill="none" stroke="#dede98" stroke-width="0.70" stroke-linecap="round" opacity="0.34"/>
<path d="M238.0,423.0 Q197.0,507.0 188.0,600.0" fill="none" stroke="#a4dcb0" stroke-width="0.70" stroke-linecap="round" opacity="0.43"/>
<path d="M78.0,615.0 Q117.2,509.9 215.0,455.0" fill="none" stroke="#f2a4a4" stroke-width="0.70" stroke-linecap="round" opacity="0.39"/>
<path d="M157.0,475.0 Q148.4,348.9 242.0,264.0" fill="none" stroke="#a4dcb0" stroke-width="0.70" stroke-linecap="round" opacity="0.23"/>
<path d="M118.0,575.0 Q151.3,463.7 265.0,440.0" fill="none" stroke="#f2a4a4" stroke-width="0.70" stroke-linecap="round" opacity="0.25"/>
<path d="M33.0,628.0 Q112.3,583.3 123.0,493.0" fill="none" stroke="#f2a4a4" stroke-width="0.70" stroke-linecap="round" opacity="0.41"/>
<path d="M183.0,524.0 Q136.2,616.7 33.0,628.0" fill="none" stroke="#f2a4a4" stroke-width="0.70" stroke-linecap="round" opacity="0.28"/>
<path d="M288.0,279.0 Q266.1,373.1 215.0,455.0" fill="none" stroke="#a4dcb0" stroke-width="0.70" stroke-linecap="round" opacity="0.27"/>
<path d="M201.0,390.0 Q148.4,431.2 123.0,493.0" fill="none" stroke="#a4dcb0" stroke-width="0.70" stroke-linecap="round" opacity="0.35"/>
<path d="M232.0,359.0 Q165.3,429.0 183.0,524.0" fill="none" stroke="#a4dcb0" stroke-width="0.70" stroke-linecap="round" opacity="0.40"/>
<path d="M238.0,474.0 Q197.7,485.0 183.0,524.0" fill="none" stroke="#dede98" stroke-width="0.70" stroke-linecap="round" opacity="0.41"/>
<path d="M33.0,628.0 Q40.8,571.4 79.0,529.0" fill="none" stroke="#f2a4a4" stroke-width="0.70" stroke-linecap="round" opacity="0.44"/>
<path d="M281.0,341.0 Q250.8,377.4 238.0,423.0" fill="none" stroke="#a4dcb0" stroke-width="0.70" stroke-linecap="round" opacity="0.36"/>
<path d="M227.0,678.0 Q141.3,762.6 168.0,880.0" fill="none" stroke="#dede98" stroke-width="0.70" stroke-linecap="round" opacity="0.24"/>
<path d="M123.0,493.0 Q163.3,353.5 288.0,279.0" fill="none" stroke="#d2bcf2" stroke-width="0.70" stroke-linecap="round" opacity="0.42"/>
<path d="M238.0,474.0 Q223.5,629.2 80.0,690.0" fill="none" stroke="#dede98" stroke-width="0.70" stroke-linecap="round" opacity="0.22"/>
<path d="M207.0,507.0 Q190.6,618.1 116.0,702.0" fill="none" stroke="#a4dcb0" stroke-width="0.70" stroke-linecap="round" opacity="0.37"/>
<path d="M374.0,580.0 Q245.4,607.6 118.0,575.0" fill="none" stroke="#a8e8f0" stroke-width="0.70" stroke-linecap="round" opacity="0.23"/>
<path d="M201.0,390.0 Q183.9,480.7 123.0,550.0" fill="none" stroke="#a4dcb0" stroke-width="0.70" stroke-linecap="round" opacity="0.36"/>
<path d="M323.0,521.0 Q300.0,487.2 264.0,468.0" fill="none" stroke="#a4dcb0" stroke-width="0.70" stroke-linecap="round" opacity="0.38"/>
<path d="M281.0,799.0 Q225.6,756.6 205.0,690.0" fill="none" stroke="#d2bcf2" stroke-width="0.70" stroke-linecap="round" opacity="0.40"/>
<path d="M183.0,524.0 Q250.8,559.0 291.0,624.0" fill="none" stroke="#f2a4a4" stroke-width="0.70" stroke-linecap="round" opacity="0.41"/>
<path d="M171.0,713.0 Q244.3,556.9 201.0,390.0" fill="none" stroke="#acd0f2" stroke-width="0.70" stroke-linecap="round" opacity="0.44"/>
<path d="M205.0,690.0 Q185.0,697.0 171.0,713.0" fill="none" stroke="#d2bcf2" stroke-width="0.70" stroke-linecap="round" opacity="0.29"/>
<path d="M238.0,423.0 Q240.1,498.9 184.0,550.0" fill="none" stroke="#a4dcb0" stroke-width="0.70" stroke-linecap="round" opacity="0.27"/>
<path d="M201.0,880.0 Q205.8,751.5 270.0,640.0" fill="none" stroke="#acd0f2" stroke-width="0.70" stroke-linecap="round" opacity="0.36"/>
<path d="M160.0,866.0 Q202.7,732.7 291.0,624.0" fill="none" stroke="#acd0f2" stroke-width="0.70" stroke-linecap="round" opacity="0.30"/>
<path d="M188.0,600.0 Q233.8,739.3 160.0,866.0" fill="none" stroke="#dede98" stroke-width="0.70" stroke-linecap="round" opacity="0.29"/>
<path d="M64.0,703.0 Q142.2,668.7 227.0,678.0" fill="none" stroke="#d2bcf2" stroke-width="0.70" stroke-linecap="round" opacity="0.31"/>
<path d="M188.0,600.0 Q183.5,472.3 256.0,367.0" fill="none" stroke="#dede98" stroke-width="0.70" stroke-linecap="round" opacity="0.30"/>
<path d="M374.0,580.0 Q278.9,570.8 188.0,600.0" fill="none" stroke="#a8e8f0" stroke-width="0.70" stroke-linecap="round" opacity="0.32"/>
<path d="M288.0,279.0 Q167.2,388.1 184.0,550.0" fill="none" stroke="#a4dcb0" stroke-width="0.70" stroke-linecap="round" opacity="0.31"/>
<path d="M277.0,778.0 Q192.1,709.2 188.0,600.0" fill="none" stroke="#d2bcf2" stroke-width="0.70" stroke-linecap="round" opacity="0.45"/>
<path d="M288.0,279.0 Q204.1,364.7 157.0,475.0" fill="none" stroke="#9ed8a8" stroke-width="0.70" stroke-linecap="round" opacity="0.36"/>
<path d="M288.0,279.0 Q236.4,389.1 207.0,507.0" fill="none" stroke="#9ed8a8" stroke-width="0.70" stroke-linecap="round" opacity="0.23"/>
<path d="M288.0,279.0 Q229.2,404.3 123.0,493.0" fill="none" stroke="#9ed8a8" stroke-width="0.70" stroke-linecap="round" opacity="0.23"/>
<path d="M288.0,279.0 Q235.1,401.3 183.0,524.0" fill="none" stroke="#9ed8a8" stroke-width="0.70" stroke-linecap="round" opacity="0.29"/>
<path d="M288.0,279.0 Q226.1,410.7 184.0,550.0" fill="none" stroke="#9ed8a8" stroke-width="0.70" stroke-linecap="round" opacity="0.21"/>
<path d="M288.0,279.0 Q219.9,436.7 118.0,575.0" fill="none" stroke="#9ed8a8" stroke-width="0.70" stroke-linecap="round" opacity="0.20"/>
<path d="M288.0,279.0 Q228.5,322.0 201.0,390.0" fill="none" stroke="#9ed8a8" stroke-width="0.70" stroke-linecap="round" opacity="0.28"/>
<path d="M288.0,279.0 Q275.5,329.8 232.0,359.0" fill="none" stroke="#9ed8a8" stroke-width="0.70" stroke-linecap="round" opacity="0.30"/>
<path d="M288.0,279.0 Q288.8,360.0 238.0,423.0" fill="none" stroke="#9ed8a8" stroke-width="0.70" stroke-linecap="round" opacity="0.21"/>
<path d="M288.0,279.0 Q219.2,353.6 215.0,455.0" fill="none" stroke="#9ed8a8" stroke-width="0.70" stroke-linecap="round" opacity="0.32"/>
<path d="M288.0,279.0 Q243.3,371.5 238.0,474.0" fill="none" stroke="#9ed8a8" stroke-width="0.70" stroke-linecap="round" opacity="0.37"/>
<path d="M288.0,279.0 Q215.5,378.3 145.0,479.0" fill="none" stroke="#9ed8a8" stroke-width="0.70" stroke-linecap="round" opacity="0.31"/>
<path d="M288.0,279.0 Q239.7,360.6 191.0,442.0" fill="none" stroke="#9ed8a8" stroke-width="0.70" stroke-linecap="round" opacity="0.35"/>
<path d="M288.0,279.0 Q274.9,373.4 264.0,468.0" fill="none" stroke="#9ed8a8" stroke-width="0.70" stroke-linecap="round" opacity="0.22"/>
<path d="M281.0,341.0 Q203.9,394.0 157.0,475.0" fill="none" stroke="#9ed8a8" stroke-width="0.70" stroke-linecap="round" opacity="0.20"/>
<path d="M281.0,341.0 Q214.7,410.9 207.0,507.0" fill="none" stroke="#9ed8a8" stroke-width="0.70" stroke-linecap="round" opacity="0.33"/>
<path d="M281.0,341.0 Q188.1,402.6 123.0,493.0" fill="none" stroke="#9ed8a8" stroke-width="0.70" stroke-linecap="round" opacity="0.36"/>
<path d="M281.0,341.0 Q221.9,427.1 183.0,524.0" fill="none" stroke="#9ed8a8" stroke-width="0.70" stroke-linecap="round" opacity="0.37"/>
<path d="M281.0,341.0 Q234.2,446.3 184.0,550.0" fill="none" stroke="#9ed8a8" stroke-width="0.70" stroke-linecap="round" opacity="0.36"/>
<path d="M281.0,341.0 Q203.3,460.7 118.0,575.0" fill="none" stroke="#9ed8a8" stroke-width="0.70" stroke-linecap="round" opacity="0.23"/>
<path d="M281.0,341.0 Q245.7,373.2 201.0,390.0" fill="none" stroke="#9ed8a8" stroke-width="0.70" stroke-linecap="round" opacity="0.27"/>
<path d="M281.0,341.0 Q248.5,328.2 232.0,359.0" fill="none" stroke="#9ed8a8" stroke-width="0.70" stroke-linecap="round" opacity="0.36"/>
<path d="M281.0,341.0 Q283.7,394.7 238.0,423.0" fill="none" stroke="#9ed8a8" stroke-width="0.70" stroke-linecap="round" opacity="0.27"/>
<path d="M281.0,341.0 Q244.3,395.9 215.0,455.0" fill="none" stroke="#9ed8a8" stroke-width="0.70" stroke-linecap="round" opacity="0.38"/>
<path d="M281.0,341.0 Q241.1,401.6 238.0,474.0" fill="none" stroke="#9ed8a8" stroke-width="0.70" stroke-linecap="round" opacity="0.22"/>
<path d="M281.0,341.0 Q188.1,385.5 145.0,479.0" fill="none" stroke="#9ed8a8" stroke-width="0.70" stroke-linecap="round" opacity="0.30"/>
<path d="M281.0,341.0 Q258.6,411.6 191.0,442.0" fill="none" stroke="#9ed8a8" stroke-width="0.70" stroke-linecap="round" opacity="0.24"/>
<path d="M281.0,341.0 Q261.2,403.0 264.0,468.0" fill="none" stroke="#9ed8a8" stroke-width="0.70" stroke-linecap="round" opacity="0.29"/>
<path d="M242.0,264.0 Q211.9,374.5 157.0,475.0" fill="none" stroke="#f0a0a0" stroke-width="0.70" stroke-linecap="round" opacity="0.26"/>
<path d="M242.0,264.0 Q242.1,388.0 207.0,507.0" fill="none" stroke="#f0a0a0" stroke-width="0.70" stroke-linecap="round" opacity="0.31"/>
<path d="M242.0,264.0 Q184.6,379.6 123.0,493.0" fill="none" stroke="#f0a0a0" stroke-width="0.70" stroke-linecap="round" opacity="0.38"/>
<path d="M242.0,264.0 Q206.4,392.6 183.0,524.0" fill="none" stroke="#f0a0a0" stroke-width="0.70" stroke-linecap="round" opacity="0.23"/>
<path d="M242.0,264.0 Q240.1,412.5 184.0,550.0" fill="none" stroke="#f0a0a0" stroke-width="0.70" stroke-linecap="round" opacity="0.22"/>
<path d="M242.0,264.0 Q154.1,409.2 118.0,575.0" fill="none" stroke="#f0a0a0" stroke-width="0.70" stroke-linecap="round" opacity="0.35"/>
<path d="M242.0,264.0 Q221.2,326.9 201.0,390.0" fill="none" stroke="#f0a0a0" stroke-width="0.70" stroke-linecap="round" opacity="0.23"/>
<path d="M242.0,264.0 Q232.5,311.0 232.0,359.0" fill="none" stroke="#f0a0a0" stroke-width="0.70" stroke-linecap="round" opacity="0.23"/>
<path d="M242.0,264.0 Q231.7,343.3 238.0,423.0" fill="none" stroke="#f0a0a0" stroke-width="0.70" stroke-linecap="round" opacity="0.37"/>
<path d="M242.0,264.0 Q213.7,357.4 215.0,455.0" fill="none" stroke="#f0a0a0" stroke-width="0.70" stroke-linecap="round" opacity="0.22"/>
<path d="M242.0,264.0 Q217.4,368.6 238.0,474.0" fill="none" stroke="#f0a0a0" stroke-width="0.70" stroke-linecap="round" opacity="0.24"/>
<path d="M242.0,264.0 Q174.5,362.9 145.0,479.0" fill="none" stroke="#f0a0a0" stroke-width="0.70" stroke-linecap="round" opacity="0.22"/>
<path d="M242.0,264.0 Q200.5,348.4 191.0,442.0" fill="none" stroke="#f0a0a0" stroke-width="0.70" stroke-linecap="round" opacity="0.27"/>
<path d="M242.0,264.0 Q267.3,364.5 264.0,468.0" fill="none" stroke="#f0a0a0" stroke-width="0.70" stroke-linecap="round" opacity="0.31"/>
<path d="M186.0,347.0 Q178.0,412.5 157.0,475.0" fill="none" stroke="#f0a0a0" stroke-width="0.70" stroke-linecap="round" opacity="0.29"/>
<path d="M186.0,347.0 Q167.9,430.8 207.0,507.0" fill="none" stroke="#f0a0a0" stroke-width="0.70" stroke-linecap="round" opacity="0.30"/>
<path d="M186.0,347.0 Q137.6,412.7 123.0,493.0" fill="none" stroke="#f0a0a0" stroke-width="0.70" stroke-linecap="round" opacity="0.34"/>
<path d="M186.0,347.0 Q192.2,435.6 183.0,524.0" fill="none" stroke="#f0a0a0" stroke-width="0.70" stroke-linecap="round" opacity="0.25"/>
<path d="M186.0,347.0 Q205.0,448.7 184.0,550.0" fill="none" stroke="#f0a0a0" stroke-width="0.70" stroke-linecap="round" opacity="0.30"/>
<path d="M186.0,347.0 Q141.5,457.9 118.0,575.0" fill="none" stroke="#f0a0a0" stroke-width="0.70" stroke-linecap="round" opacity="0.28"/>
<path d="M186.0,347.0 Q167.4,377.6 201.0,390.0" fill="none" stroke="#f0a0a0" stroke-width="0.70" stroke-linecap="round" opacity="0.24"/>
<path d="M186.0,347.0 Q200.3,386.4 232.0,359.0" fill="none" stroke="#f0a0a0" stroke-width="0.70" stroke-linecap="round" opacity="0.30"/>
<path d="M186.0,347.0 Q232.9,370.7 238.0,423.0" fill="none" stroke="#f0a0a0" stroke-width="0.70" stroke-linecap="round" opacity="0.38"/>
<path d="M186.0,347.0 Q171.6,408.8 215.0,455.0" fill="none" stroke="#f0a0a0" stroke-width="0.70" stroke-linecap="round" opacity="0.22"/>
<path d="M186.0,347.0 Q203.9,413.8 238.0,474.0" fill="none" stroke="#f0a0a0" stroke-width="0.70" stroke-linecap="round" opacity="0.25"/>
<path d="M186.0,347.0 Q158.8,410.9 145.0,479.0" fill="none" stroke="#f0a0a0" stroke-width="0.70" stroke-linecap="round" opacity="0.24"/>
<path d="M186.0,347.0 Q217.5,393.0 191.0,442.0" fill="none" stroke="#f0a0a0" stroke-width="0.70" stroke-linecap="round" opacity="0.34"/>
<path d="M186.0,347.0 Q231.8,403.1 264.0,468.0" fill="none" stroke="#f0a0a0" stroke-width="0.70" stroke-linecap="round" opacity="0.32"/>
<path d="M216.0,354.0 Q197.0,419.6 157.0,475.0" fill="none" stroke="#f0a0a0" stroke-width="0.70" stroke-linecap="round" opacity="0.22"/>
<path d="M216.0,354.0 Q224.7,431.3 207.0,507.0" fill="none" stroke="#f0a0a0" stroke-width="0.70" stroke-linecap="round" opacity="0.30"/>
<path d="M216.0,354.0 Q189.1,436.6 123.0,493.0" fill="none" stroke="#f0a0a0" stroke-width="0.70" stroke-linecap="round" opacity="0.27"/>
<path d="M216.0,354.0 Q211.7,441.4 183.0,524.0" fill="none" stroke="#f0a0a0" stroke-width="0.70" stroke-linecap="round" opacity="0.35"/>
<path d="M216.0,354.0 Q187.9,450.0 184.0,550.0" fill="none" stroke="#f0a0a0" stroke-width="0.70" stroke-linecap="round" opacity="0.33"/>
<path d="M216.0,354.0 Q196.9,477.8 118.0,575.0" fill="none" stroke="#f0a0a0" stroke-width="0.70" stroke-linecap="round" opacity="0.26"/>
<path d="M216.0,354.0 Q179.4,359.9 201.0,390.0" fill="none" stroke="#f0a0a0" stroke-width="0.70" stroke-linecap="round" opacity="0.29"/>
<path d="M216.0,354.0 Q223.4,358.3 232.0,359.0" fill="none" stroke="#f0a0a0" stroke-width="0.70" stroke-linecap="round" opacity="0.33"/>
<path d="M216.0,354.0 Q235.4,385.8 238.0,423.0" fill="none" stroke="#f0a0a0" stroke-width="0.70" stroke-linecap="round" opacity="0.31"/>
<path d="M216.0,354.0 Q243.2,404.8 215.0,455.0" fill="none" stroke="#f0a0a0" stroke-width="0.70" stroke-linecap="round" opacity="0.32"/>
<path d="M216.0,354.0 Q236.8,412.2 238.0,474.0" fill="none" stroke="#f0a0a0" stroke-width="0.70" stroke-linecap="round" opacity="0.24"/>
<path d="M216.0,354.0 Q152.3,400.5 145.0,479.0" fill="none" stroke="#f0a0a0" stroke-width="0.70" stroke-linecap="round" opacity="0.32"/>
<path d="M216.0,354.0 Q180.6,391.5 191.0,442.0" fill="none" stroke="#f0a0a0" stroke-width="0.70" stroke-linecap="round" opacity="0.24"/>
<path d="M216.0,354.0 Q223.1,418.1 264.0,468.0" fill="none" stroke="#f0a0a0" stroke-width="0.70" stroke-linecap="round" opacity="0.21"/>
<path d="M494.0,631.0 Q263.3,654.7 33.0,628.0" fill="none" stroke="#f6c4a0" stroke-width="0.80" stroke-linecap="round" opacity="0.45"/>
<path d="M579.0,643.0 Q390.1,793.4 199.0,941.0" fill="none" stroke="#f6c4a0" stroke-width="0.80" stroke-linecap="round" opacity="0.45"/>
<path d="M465.0,620.0 Q356.7,624.0 323.0,521.0" fill="none" stroke="#f6c4a0" stroke-width="0.80" stroke-linecap="round" opacity="0.45"/>
<path d="M494.0,631.0 Q326.2,639.7 184.0,550.0" fill="none" stroke="#f6c4a0" stroke-width="0.80" stroke-linecap="round" opacity="0.45"/>
<path d="M494.0,631.0 Q336.4,661.0 188.0,600.0" fill="none" stroke="#f6c4a0" stroke-width="0.80" stroke-linecap="round" opacity="0.45"/>
<path d="M579.0,643.0 Q372.5,700.0 161.0,734.0" fill="none" stroke="#f6c4a0" stroke-width="0.80" stroke-linecap="round" opacity="0.45"/>
<path d="M465.0,620.0 Q339.6,669.5 206.0,652.0" fill="none" stroke="#f6c4a0" stroke-width="0.80" stroke-linecap="round" opacity="0.45"/>
<path d="M494.0,631.0 Q354.3,541.4 238.0,423.0" fill="none" stroke="#f6c4a0" stroke-width="0.80" stroke-linecap="round" opacity="0.45"/>
<path d="M494.0,631.0 Q271.6,640.5 79.0,529.0" fill="none" stroke="#f6c4a0" stroke-width="0.80" stroke-linecap="round" opacity="0.45"/>
<path d="M579.0,643.0 Q433.4,488.6 281.0,341.0" fill="none" stroke="#f6c4a0" stroke-width="0.80" stroke-linecap="round" opacity="0.45"/>
<path d="M465.0,620.0 Q309.1,624.9 207.0,507.0" fill="none" stroke="#f6c4a0" stroke-width="0.80" stroke-linecap="round" opacity="0.45"/>
<path d="M494.0,631.0 Q286.1,619.3 78.0,615.0" fill="none" stroke="#f6c4a0" stroke-width="0.80" stroke-linecap="round" opacity="0.45"/>
<path d="M494.0,631.0 Q358.3,536.5 238.0,423.0" fill="none" stroke="#f6c4a0" stroke-width="0.80" stroke-linecap="round" opacity="0.45"/>
<path d="M579.0,643.0 Q369.1,542.3 145.0,479.0" fill="none" stroke="#f6c4a0" stroke-width="0.80" stroke-linecap="round" opacity="0.45"/>
<path d="M465.0,620.0 Q367.9,806.5 179.0,899.0" fill="none" stroke="#f6c4a0" stroke-width="0.80" stroke-linecap="round" opacity="0.45"/>
<path d="M494.0,631.0 Q371.3,716.0 227.0,678.0" fill="none" stroke="#f6c4a0" stroke-width="0.80" stroke-linecap="round" opacity="0.45"/>
<path d="M494.0,631.0 Q308.0,589.7 118.0,575.0" fill="none" stroke="#f6c4a0" stroke-width="0.80" stroke-linecap="round" opacity="0.45"/>
<path d="M579.0,643.0 Q434.6,638.9 291.0,624.0" fill="none" stroke="#f6c4a0" stroke-width="0.80" stroke-linecap="round" opacity="0.45"/>
<path d="M465.0,620.0 Q342.7,635.3 227.0,678.0" fill="none" stroke="#f6c4a0" stroke-width="0.80" stroke-linecap="round" opacity="0.45"/>
<path d="M494.0,631.0 Q346.9,574.6 265.0,440.0" fill="none" stroke="#f6c4a0" stroke-width="0.80" stroke-linecap="round" opacity="0.45"/>
<path d="M494.0,631.0 Q317.4,601.8 215.0,455.0" fill="none" stroke="#f6c4a0" stroke-width="0.80" stroke-linecap="round" opacity="0.45"/>
<path d="M579.0,643.0 Q442.5,744.8 281.0,799.0" fill="none" stroke="#f6c4a0" stroke-width="0.80" stroke-linecap="round" opacity="0.45"/>
<path d="M465.0,620.0 Q332.5,571.6 207.0,507.0" fill="none" stroke="#f6c4a0" stroke-width="0.80" stroke-linecap="round" opacity="0.45"/>
<path d="M494.0,631.0 Q320.8,629.0 183.0,524.0" fill="none" stroke="#f6c4a0" stroke-width="0.80" stroke-linecap="round" opacity="0.45"/>
<path d="M494.0,631.0 Q331.3,619.9 184.0,550.0" fill="none" stroke="#f6c4a0" stroke-width="0.80" stroke-linecap="round" opacity="0.45"/>
<path d="M579.0,643.0 Q390.8,589.7 265.0,440.0" fill="none" stroke="#f6c4a0" stroke-width="0.80" stroke-linecap="round" opacity="0.45"/>
<path d="M465.0,620.0 Q345.1,552.1 265.0,440.0" fill="none" stroke="#f6c4a0" stroke-width="0.80" stroke-linecap="round" opacity="0.45"/>
<path d="M494.0,631.0 Q326.9,680.5 161.0,734.0" fill="none" stroke="#f6c4a0" stroke-width="0.80" stroke-linecap="round" opacity="0.45"/>
<path d="M494.0,631.0 Q350.7,782.2 160.0,866.0" fill="none" stroke="#f6c4a0" stroke-width="0.80" stroke-linecap="round" opacity="0.45"/>
<path d="M579.0,643.0 Q432.1,725.0 281.0,799.0" fill="none" stroke="#f6c4a0" stroke-width="0.80" stroke-linecap="round" opacity="0.45"/>
<path d="M465.0,620.0 Q297.2,569.2 123.0,550.0" fill="none" stroke="#f6c4a0" stroke-width="0.80" stroke-linecap="round" opacity="0.45"/>
<path d="M494.0,631.0 Q403.1,584.4 323.0,521.0" fill="none" stroke="#f6c4a0" stroke-width="0.80" stroke-linecap="round" opacity="0.45"/>
<path d="M494.0,631.0 Q362.9,557.5 238.0,474.0" fill="none" stroke="#f6c4a0" stroke-width="0.80" stroke-linecap="round" opacity="0.45"/>
<path d="M579.0,643.0 Q355.0,731.4 116.0,702.0" fill="none" stroke="#f6c4a0" stroke-width="0.80" stroke-linecap="round" opacity="0.45"/>
<path d="M494.0,631.0 Q376.0,626.5 323.0,521.0" fill="none" stroke="#f4c8a4" stroke-width="0.80" stroke-linecap="round" opacity="0.50"/>
<path d="M494.0,631.0 Q347.2,515.6 281.0,341.0" fill="none" stroke="#f4c8a4" stroke-width="0.80" stroke-linecap="round" opacity="0.50"/>
<path d="M494.0,631.0 Q338.5,606.6 264.0,468.0" fill="none" stroke="#f4c8a4" stroke-width="0.80" stroke-linecap="round" opacity="0.50"/>
<path d="M494.0,631.0 Q326.7,624.1 207.0,507.0" fill="none" stroke="#f4c8a4" stroke-width="0.80" stroke-linecap="round" opacity="0.50"/>
<path d="M494.0,631.0 Q337.2,599.4 238.0,474.0" fill="none" stroke="#f4c8a4" stroke-width="0.80" stroke-linecap="round" opacity="0.50"/>
<path d="M494.0,631.0 Q356.5,475.2 288.0,279.0" fill="none" stroke="#f4c8a4" stroke-width="0.80" stroke-linecap="round" opacity="0.50"/>
<path d="M494.0,631.0 Q300.3,607.4 157.0,475.0" fill="none" stroke="#f4c8a4" stroke-width="0.80" stroke-linecap="round" opacity="0.50"/>
<path d="M494.0,631.0 Q422.3,633.1 374.0,580.0" fill="none" stroke="#f4c8a4" stroke-width="0.80" stroke-linecap="round" opacity="0.50"/>
<path d="M579.0,643.0 Q416.6,654.2 323.0,521.0" fill="none" stroke="#e8e4b0" stroke-width="0.80" stroke-linecap="round" opacity="0.50"/>
<path d="M579.0,643.0 Q377.8,634.2 264.0,468.0" fill="none" stroke="#e8e4b0" stroke-width="0.80" stroke-linecap="round" opacity="0.50"/>
<path d="M579.0,643.0 Q365.5,650.1 207.0,507.0" fill="none" stroke="#e8e4b0" stroke-width="0.80" stroke-linecap="round" opacity="0.50"/>
<path d="M579.0,643.0 Q387.3,534.1 281.0,341.0" fill="none" stroke="#e8e4b0" stroke-width="0.80" stroke-linecap="round" opacity="0.50"/>
<path d="M380.0,565.0 C664.4,334.9 881.2,344.5 1148.0,614.0" fill="none" stroke="#14d2e2" stroke-width="4.60" stroke-linecap="round" opacity="1.00"/>
<path d="M380.0,565.0 C547.8,421.0 698.2,434.0 852.0,590.0" fill="none" stroke="#14d2e2" stroke-width="3.00" stroke-linecap="round" opacity="1.00"/>
<path d="M474.0,239.0 C399.3,329.2 360.8,443.3 374.0,560.0" fill="none" stroke="#14d2e2" stroke-width="4.0" stroke-linecap="round" opacity="1.00"/>
<path d="M381.0,423.0 C388.7,457.4 390.4,492.9 388.0,528.0" fill="none" stroke="#14d2e2" stroke-width="2.8" stroke-linecap="round" opacity="1.00"/>
<path d="M390.0,563.0 C494.7,539.0 520.6,563.3 579.0,643.0" fill="none" stroke="url(#lg1)" stroke-width="3.6" stroke-linecap="round" opacity="1.00"/>
<path d="M395.0,567.0 C449.8,571.9 464.9,584.5 494.0,631.0" fill="none" stroke="url(#lg2)" stroke-width="5.0" stroke-linecap="round" opacity="1.00"/>
<path d="M398.0,606.0 C420.5,624.3 437.1,631.1 465.0,620.0" fill="none" stroke="url(#lg3)" stroke-width="3.4" stroke-linecap="round" opacity="1.00"/>
<path d="M395.0,605.0 C453.2,654.3 504.7,690.5 579.0,643.0" fill="none" stroke="url(#lg4)" stroke-width="4.0" stroke-linecap="round" opacity="1.00"/>
<path d="M390.0,612.0 C452.1,693.0 519.9,700.5 609.0,659.0" fill="none" stroke="url(#lg5)" stroke-width="4.0" stroke-linecap="round" opacity="1.00"/>
<path d="M329.0,158.0 C301.2,311.6 296.8,408.7 366.0,548.0" fill="none" stroke="url(#lg6)" stroke-width="2.6" stroke-linecap="round" opacity="1.00"/>
<path d="M242.0,264.0 C332.2,333.6 370.6,416.0 369.0,529.0" fill="none" stroke="url(#lg7)" stroke-width="4.0" stroke-linecap="round" opacity="1.00"/>
<path d="M288.0,279.0 C278.6,376.3 278.1,474.2 358.0,545.0" fill="none" stroke="url(#lg8)" stroke-width="6.0" stroke-linecap="round" opacity="1.00"/>
<path d="M281.0,341.0 C288.5,427.9 296.1,474.8 356.0,542.0" fill="none" stroke="url(#lg9)" stroke-width="7.0" stroke-linecap="round" opacity="1.00"/>
<path d="M256.0,367.0 C313.8,385.3 356.5,474.6 368.0,530.0" fill="none" stroke="url(#lg10)" stroke-width="5.0" stroke-linecap="round" opacity="1.00"/>
<path d="M201.0,390.0 C255.1,372.6 353.9,490.8 364.0,538.0" fill="none" stroke="url(#lg11)" stroke-width="5.0" stroke-linecap="round" opacity="1.00"/>
<path d="M232.0,359.0 C238.0,470.8 282.9,476.1 350.0,548.0" fill="none" stroke="url(#lg12)" stroke-width="4.0" stroke-linecap="round" opacity="1.00"/>
<path d="M256.0,367.0 C262.6,463.7 287.1,486.3 355.0,550.0" fill="none" stroke="url(#lg13)" stroke-width="3.4" stroke-linecap="round" opacity="1.00"/>
<path d="M264.0,468.0 C312.3,484.2 332.5,496.4 355.0,545.0" fill="none" stroke="url(#lg14)" stroke-width="4.0" stroke-linecap="round" opacity="1.00"/>
<path d="M238.0,423.0 C253.0,496.1 317.1,498.7 350.0,555.0" fill="none" stroke="url(#lg15)" stroke-width="3.0" stroke-linecap="round" opacity="1.00"/>
<path d="M264.0,440.0 C295.3,475.1 328.0,509.3 355.0,548.0" fill="none" stroke="#20d0e0" stroke-width="4.0" stroke-linecap="round" opacity="1.00"/>
<path d="M288.0,279.0 C303.9,365.9 339.9,444.4 358.0,530.0" fill="none" stroke="url(#lg16)" stroke-width="2.5" stroke-linecap="round" opacity="1.00"/>
<path d="M187.0,350.0 C195.4,390.5 213.5,430.0 225.0,470.0" fill="none" stroke="#e06c6c" stroke-width="3.0" stroke-linecap="round" opacity="1.00"/>
<path d="M216.0,356.0 C221.4,391.8 237.9,424.0 249.0,458.0" fill="none" stroke="#e06c6c" stroke-width="3.0" stroke-linecap="round" opacity="1.00"/>
<path d="M191.0,444.0 C192.0,445.8 194.8,450.7 197.0,455.0 C199.2,459.3 202.8,467.5 204.0,470.0" fill="none" stroke="#e06c6c" stroke-width="2.5" stroke-linecap="round" opacity="1.00"/>
<path d="M145.0,478.0 C199.0,422.8 329.1,466.9 352.0,540.0" fill="none" stroke="url(#lg17)" stroke-width="6.0" stroke-linecap="round" opacity="1.00"/>
<path d="M140.0,475.0 C216.5,448.0 317.2,475.4 356.0,552.0" fill="none" stroke="url(#lg18)" stroke-width="7.0" stroke-linecap="round" opacity="1.00"/>
<path d="M150.0,485.0 C220.7,457.9 323.5,493.5 360.0,562.0" fill="none" stroke="url(#lg19)" stroke-width="5.0" stroke-linecap="round" opacity="1.00"/>
<path d="M144.0,500.0 C201.0,475.7 309.1,511.2 348.0,558.0" fill="none" stroke="url(#lg20)" stroke-width="5.0" stroke-linecap="round" opacity="1.00"/>
<path d="M140.0,490.0 C201.0,477.0 312.0,499.3 352.0,552.0" fill="none" stroke="url(#lg21)" stroke-width="5.0" stroke-linecap="round" opacity="1.00"/>
<path d="M150.0,498.0 C214.3,495.3 312.3,517.0 356.0,568.0" fill="none" stroke="url(#lg22)" stroke-width="4.0" stroke-linecap="round" opacity="1.00"/>
<path d="M207.0,507.0 C272.9,486.5 317.8,511.3 355.0,565.0" fill="none" stroke="url(#lg23)" stroke-width="5.0" stroke-linecap="round" opacity="1.00"/>
<path d="M157.0,475.0 C198.5,545.8 264.5,599.3 352.0,584.0" fill="none" stroke="url(#lg24)" stroke-width="4.0" stroke-linecap="round" opacity="1.00"/>
<path d="M157.0,475.0 C227.8,449.9 308.7,477.9 345.0,545.0" fill="none" stroke="url(#lg25)" stroke-width="4.0" stroke-linecap="round" opacity="1.00"/>
<path d="M207.0,507.0 C235.9,555.6 302.3,564.3 352.0,578.0" fill="none" stroke="url(#lg26)" stroke-width="4.0" stroke-linecap="round" opacity="1.00"/>
<path d="M323.0,521.0 C326.7,524.2 338.8,533.5 345.0,540.0 C351.2,546.5 357.5,556.7 360.0,560.0" fill="none" stroke="url(#lg27)" stroke-width="4.0" stroke-linecap="round" opacity="1.00"/>
<path d="M238.0,474.0 C274.6,500.5 328.1,494.9 352.0,540.0" fill="none" stroke="url(#lg28)" stroke-width="5.0" stroke-linecap="round" opacity="1.00"/>
<path d="M215.0,455.0 C255.5,474.6 327.0,497.3 350.0,538.0" fill="none" stroke="url(#lg29)" stroke-width="4.0" stroke-linecap="round" opacity="1.00"/>
<path d="M238.0,474.0 C268.2,514.7 328.1,507.7 358.0,550.0" fill="none" stroke="url(#lg30)" stroke-width="4.0" stroke-linecap="round" opacity="1.00"/>
<path d="M188.0,600.0 C217.1,569.2 252.1,536.8 285.0,510.0" fill="none" stroke="url(#lg31)" stroke-width="3.5" stroke-linecap="round" opacity="1.00"/>
<path d="M188.0,600.0 C235.6,566.3 291.3,568.3 345.0,585.0" fill="none" stroke="url(#lg32)" stroke-width="3.5" stroke-linecap="round" opacity="1.00"/>
<path d="M246.0,634.0 C282.5,623.3 312.5,597.8 350.0,590.0" fill="none" stroke="url(#lg33)" stroke-width="3.0" stroke-linecap="round" opacity="1.00"/>
<path d="M291.0,624.0 C295.8,622.3 310.2,618.0 320.0,614.0 C329.8,610.0 345.0,602.3 350.0,600.0" fill="none" stroke="url(#lg34)" stroke-width="3.0" stroke-linecap="round" opacity="1.00"/>
<path d="M227.0,678.0 C267.6,625.7 284.5,608.2 350.0,590.0" fill="none" stroke="url(#lg35)" stroke-width="3.5" stroke-linecap="round" opacity="1.00"/>
<path d="M285.0,573.0 C290.8,573.3 309.2,573.8 320.0,575.0 C330.8,576.2 345.0,579.2 350.0,580.0" fill="none" stroke="url(#lg36)" stroke-width="4.0" stroke-linecap="round" opacity="1.00"/>
<path d="M214.0,616.0 C233.5,596.7 257.1,577.8 285.0,573.0" fill="none" stroke="url(#lg37)" stroke-width="3.5" stroke-linecap="round" opacity="1.00"/>
<path d="M183.0,524.0 C247.5,515.5 301.6,518.6 350.0,568.0" fill="none" stroke="url(#lg38)" stroke-width="5.0" stroke-linecap="round" opacity="1.00"/>
<path d="M184.0,550.0 C232.1,535.3 314.5,543.9 352.0,580.0" fill="none" stroke="url(#lg39)" stroke-width="5.0" stroke-linecap="round" opacity="1.00"/>
<path d="M123.0,550.0 C182.7,502.0 294.2,492.6 345.0,560.0" fill="none" stroke="url(#lg40)" stroke-width="4.0" stroke-linecap="round" opacity="1.00"/>
<path d="M118.0,575.0 C184.2,514.3 287.0,507.2 352.0,572.0" fill="none" stroke="url(#lg41)" stroke-width="4.5" stroke-linecap="round" opacity="1.00"/>
<path d="M78.0,615.0 C109.7,580.5 145.8,554.3 185.0,529.0" fill="none" stroke="#e47272" stroke-width="5.0" stroke-linecap="round" opacity="1.00"/>
<path d="M115.0,609.0 C138.2,576.0 166.1,576.6 184.0,550.0" fill="none" stroke="#e47272" stroke-width="4.0" stroke-linecap="round" opacity="1.00"/>
<path d="M33.0,628.0 C75.3,587.6 127.8,540.8 185.0,524.0" fill="none" stroke="#e47272" stroke-width="3.0" stroke-linecap="round" opacity="1.00"/>
<path d="M79.0,529.0 C81.2,526.8 87.5,519.8 92.0,516.0 C96.5,512.2 103.7,507.7 106.0,506.0" fill="none" stroke="#e47272" stroke-width="3.5" stroke-linecap="round" opacity="1.00"/>
<path d="M184.0,550.0 C243.2,596.5 268.9,632.7 355.0,595.0" fill="none" stroke="url(#lg42)" stroke-width="5.0" stroke-linecap="round" opacity="1.00"/>
<path d="M183.0,524.0 C243.0,581.6 235.6,606.5 335.0,596.0" fill="none" stroke="url(#lg43)" stroke-width="4.0" stroke-linecap="round" opacity="1.00"/>
<path d="M78.0,615.0 C85.7,615.5 112.5,615.7 124.0,618.0 C135.5,620.3 138.5,624.3 147.0,629.0 C155.5,633.7 164.5,641.5 175.0,646.0 C185.5,650.5 198.3,654.0 210.0,656.0 C221.7,658.0 231.7,659.3 245.0,658.0 C258.3,656.7 275.8,654.0 290.0,648.0 C304.2,642.0 318.7,630.3 330.0,622.0 C341.3,613.7 353.3,602.0 358.0,598.0" fill="none" stroke="url(#lg44)" stroke-width="7.5" stroke-linecap="round" opacity="1.00"/>
<path d="M78.0,615.0 C151.6,517.8 249.1,508.2 345.0,585.0" fill="none" stroke="url(#lg45)" stroke-width="3.0" stroke-linecap="round" opacity="1.00"/>
<path d="M64.0,703.0 C66.7,700.8 76.8,694.3 80.0,690.0 C83.2,685.7 79.8,683.0 83.0,677.0 C86.2,671.0 93.0,661.7 99.0,654.0 C105.0,646.3 112.2,638.5 119.0,631.0 C125.8,623.5 131.8,616.3 140.0,609.0 C148.2,601.7 158.7,593.3 168.0,587.0 C177.3,580.7 186.2,575.8 196.0,571.0 C205.8,566.2 216.3,561.2 227.0,558.0 C237.7,554.8 247.8,553.0 260.0,552.0 C272.2,551.0 285.8,549.7 300.0,552.0 C314.2,554.3 337.5,563.7 345.0,566.0" fill="none" stroke="url(#lg46)" stroke-width="3.5" stroke-linecap="round" opacity="1.00"/>
<path d="M81.0,689.0 C192.2,735.5 282.7,725.8 364.0,628.0" fill="none" stroke="url(#lg47)" stroke-width="7.5" stroke-linecap="round" opacity="1.00"/>
<path d="M206.0,690.0 C235.2,647.1 278.6,612.0 330.0,600.0" fill="none" stroke="url(#lg48)" stroke-width="3.5" stroke-linecap="round" opacity="1.00"/>
<path d="M205.0,690.0 C225.6,663.3 247.4,634.9 280.0,622.0" fill="none" stroke="#b0a0ec" stroke-width="4.0" stroke-linecap="round" opacity="1.00"/>
<path d="M277.0,778.0 C324.2,767.0 364.3,651.8 368.0,610.0" fill="none" stroke="url(#lg49)" stroke-width="5.0" stroke-linecap="round" opacity="1.00"/>
<path d="M277.0,778.0 C278.5,744.3 288.4,652.6 330.0,640.0" fill="none" stroke="url(#lg50)" stroke-width="2.5" stroke-linecap="round" opacity="1.00"/>
<path d="M206.0,652.0 C256.3,641.4 304.4,618.2 350.0,595.0" fill="none" stroke="url(#lg51)" stroke-width="6.0" stroke-linecap="round" opacity="1.00"/>
<path d="M270.0,640.0 C299.5,627.3 325.9,608.6 355.0,595.0" fill="none" stroke="url(#lg52)" stroke-width="6.0" stroke-linecap="round" opacity="1.00"/>
<path d="M206.0,652.0 C258.1,691.3 320.5,651.2 355.0,610.0" fill="none" stroke="url(#lg53)" stroke-width="4.5" stroke-linecap="round" opacity="1.00"/>
<path d="M206.0,652.0 C238.5,592.9 279.1,536.8 350.0,585.0" fill="none" stroke="url(#lg54)" stroke-width="3.0" stroke-linecap="round" opacity="1.00"/>
<path d="M158.0,703.0 C202.6,636.8 259.5,582.4 345.0,590.0" fill="none" stroke="url(#lg55)" stroke-width="3.0" stroke-linecap="round" opacity="1.00"/>
<path d="M161.0,734.0 C218.3,682.6 271.2,636.5 345.0,610.0" fill="none" stroke="url(#lg56)" stroke-width="3.0" stroke-linecap="round" opacity="1.00"/>
<path d="M171.0,713.0 C235.3,689.0 287.7,642.8 350.0,615.0" fill="none" stroke="url(#lg57)" stroke-width="3.0" stroke-linecap="round" opacity="1.00"/>
<path d="M270.0,640.0 C298.4,663.5 334.7,641.3 355.0,620.0" fill="none" stroke="url(#lg58)" stroke-width="4.0" stroke-linecap="round" opacity="1.00"/>
<path d="M160.5,866.0 C163.9,738.4 236.5,658.6 350.0,612.0" fill="none" stroke="url(#lg59)" stroke-width="3.0" stroke-linecap="round" opacity="1.00"/>
<path d="M168.0,880.0 C179.0,775.3 245.1,662.1 345.0,620.0" fill="none" stroke="url(#lg60)" stroke-width="3.0" stroke-linecap="round" opacity="1.00"/>
<path d="M201.0,880.0 C201.5,783.1 255.3,647.9 352.0,610.0" fill="none" stroke="url(#lg61)" stroke-width="4.0" stroke-linecap="round" opacity="1.00"/>
<path d="M199.0,878.0 C195.4,787.8 242.0,660.6 330.0,622.0" fill="none" stroke="url(#lg62)" stroke-width="3.2" stroke-linecap="round" opacity="1.00"/>
<path d="M203.0,878.0 C205.8,790.2 259.2,667.2 340.0,625.0" fill="none" stroke="url(#lg63)" stroke-width="3.2" stroke-linecap="round" opacity="1.00"/>
<path d="M201.0,871.0 C315.3,841.8 355.8,695.8 372.0,595.0" fill="none" stroke="url(#lg64)" stroke-width="4.0" stroke-linecap="round" opacity="1.00"/>
<path d="M179.0,899.0 C348.7,855.3 356.9,747.1 373.0,595.0" fill="none" stroke="url(#lg65)" stroke-width="3.5" stroke-linecap="round" opacity="1.00"/>
<path d="M191.0,923.0 C192.7,921.3 192.8,917.7 201.0,913.0 C209.2,908.3 226.0,904.5 240.0,895.0 C254.0,885.5 272.0,869.5 285.0,856.0 C298.0,842.5 308.0,830.0 318.0,814.0 C328.0,798.0 338.0,779.0 345.0,760.0 C352.0,741.0 356.0,721.7 360.0,700.0 C364.0,678.3 366.7,647.5 369.0,630.0 C371.3,612.5 373.2,600.8 374.0,595.0" fill="none" stroke="url(#lg66)" stroke-width="5.0" stroke-linecap="round" opacity="1.00"/>
<path d="M191.0,923.0 C192.0,919.2 195.3,907.2 197.0,900.0 C198.7,892.8 200.3,883.3 201.0,880.0" fill="none" stroke="#50a8e0" stroke-width="3.0" stroke-linecap="round" opacity="1.00"/>
<path d="M179.0,899.0 C182.3,896.5 195.3,887.2 199.0,884.0 C202.7,880.8 200.7,880.7 201.0,880.0" fill="none" stroke="#50a8e0" stroke-width="3.0" stroke-linecap="round" opacity="1.00"/>
<path d="M199.0,941.0 C198.5,938.3 197.3,928.0 196.0,925.0 C194.7,922.0 191.8,923.3 191.0,923.0" fill="none" stroke="#50a8e0" stroke-width="3.0" stroke-linecap="round" opacity="1.00"/>
<path d="M342.0,861.0 C379.0,789.0 394.6,680.6 380.0,600.0" fill="none" stroke="url(#lg67)" stroke-width="2.6" stroke-linecap="round" opacity="1.00"/>
<path d="M329.0,160.0 C303.7,222.1 273.6,282.3 250.0,345.0" fill="none" stroke="#9edcb0" stroke-width="1.0" stroke-linecap="round" opacity="0.60"/>
<path d="M329.0,160.0 C320.7,208.3 305.9,255.6 285.0,300.0" fill="none" stroke="#b4e4c0" stroke-width="1.0" stroke-linecap="round" opacity="0.50"/>
<path d="M442.0,239.0 C386.7,243.7 335.5,287.8 310.0,335.0" fill="none" stroke="#a8eef4" stroke-width="1.0" stroke-linecap="round" opacity="0.70"/>
<path d="M381.0,423.0 C359.3,443.8 330.9,460.0 300.0,460.0" fill="none" stroke="#a8eef4" stroke-width="1.0" stroke-linecap="round" opacity="0.60"/>
<path d="M103.0,497.0 C71.6,494.1 42.0,481.8 14.0,468.0" fill="none" stroke="#d8c4f4" stroke-width="1.2" stroke-linecap="round" opacity="0.60"/>
<text transform="translate(179.8,946.9) scale(1,1.650)" font-size="11.54" fill="#555555" opacity="0.18" stroke="#555555" stroke-width="0.14" textLength="37.2" lengthAdjust="spacingAndGlyphs">estonia</text>
<text transform="translate(153.6,908.0) scale(1,1.650)" font-size="11.54" fill="#555555" opacity="0.18" stroke="#555555" stroke-width="0.14" textLength="50.7" lengthAdjust="spacingAndGlyphs">singapore</text>
<text transform="translate(140.0,886.9) scale(1,1.650)" font-size="12.66" fill="#555555" opacity="0.18" stroke="#555555" stroke-width="0.15" textLength="38.0" lengthAdjust="spacingAndGlyphs">ireland</text>
<text transform="translate(266.8,804.2) scale(1,1.650)" font-size="11.61" fill="#555555" opacity="0.18" stroke="#555555" stroke-width="0.14" textLength="27.1" lengthAdjust="spacingAndGlyphs">latvia</text>
<text transform="translate(124.2,742.2) scale(1,1.650)" font-size="15.03" fill="#555555" opacity="0.18" stroke="#555555" stroke-width="0.18" textLength="75.2" lengthAdjust="spacingAndGlyphs">switzerland</text>
<text transform="translate(185.0,690.6) scale(1,1.650)" font-size="14.61" fill="#555555" opacity="0.28" stroke="#555555" stroke-width="0.18" textLength="40.6" lengthAdjust="spacingAndGlyphs">france</text>
<text transform="translate(388.5,557.6) scale(1,1.650)" font-size="10.99" fill="#555555" opacity="0.23" stroke="#555555" stroke-width="0.13" textLength="38.5" lengthAdjust="spacingAndGlyphs">ethiopia</text>
<text transform="translate(438.0,626.0) scale(1,1.650)" font-size="10.40" fill="#555555" opacity="0.23" stroke="#555555" stroke-width="0.12" textLength="48.0" lengthAdjust="spacingAndGlyphs">azerbaijan</text>
<text transform="translate(4.0,635.3) scale(1,1.650)" font-size="13.49" fill="#555555" opacity="0.23" stroke="#555555" stroke-width="0.16" textLength="48.0" lengthAdjust="spacingAndGlyphs">lebanon</text>
<text transform="translate(97.5,556.4) scale(1,1.650)" font-size="13.83" fill="#555555" opacity="0.35" stroke="#555555" stroke-width="0.17" textLength="51.5" lengthAdjust="spacingAndGlyphs">scotland</text>
<text transform="translate(170.0,351.8) scale(1,1.650)" font-size="12.26" fill="#555555" opacity="0.37" stroke="#555555" stroke-width="0.15" textLength="30.0" lengthAdjust="spacingAndGlyphs">egypt</text>
<text transform="translate(231.6,270.1) scale(1,1.650)" font-size="11.82" fill="#555555" opacity="0.32" stroke="#555555" stroke-width="0.14" textLength="19.7" lengthAdjust="spacingAndGlyphs">iraq</text>
<ellipse cx="242.0" cy="264.4" rx="3.6" ry="6.2" fill="url(#n_red)" opacity="1.00"/>
<ellipse cx="186.0" cy="341.0" rx="5.2" ry="8.9" fill="url(#n_red)" opacity="1.00"/>
<ellipse cx="188.0" cy="353.0" rx="5.2" ry="8.9" fill="url(#n_red)" opacity="1.00"/>
<ellipse cx="216.0" cy="354.5" rx="7.5" ry="12.9" fill="url(#n_red)" opacity="1.00"/>
<ellipse cx="191.5" cy="442.5" rx="7.4" ry="12.7" fill="url(#n_red)" opacity="1.00"/>
<ellipse cx="145.0" cy="479.0" rx="8.0" ry="13.8" fill="url(#n_red)" opacity="1.00"/>
<ellipse cx="183.4" cy="524.5" rx="9.5" ry="16.3" fill="url(#n_red)" opacity="1.00"/>
<ellipse cx="184.0" cy="550.0" rx="10.0" ry="17.2" fill="url(#n_red)" opacity="1.00"/>
<ellipse cx="79.4" cy="528.7" rx="3.2" ry="5.5" fill="url(#n_red)" opacity="1.00"/>
<ellipse cx="123.5" cy="550.0" rx="7.0" ry="12.0" fill="url(#n_red)" opacity="1.00"/>
<ellipse cx="118.6" cy="575.0" rx="9.0" ry="15.5" fill="url(#n_red)" opacity="1.00"/>
<ellipse cx="77.7" cy="615.0" rx="9.5" ry="16.3" fill="url(#n_red)" opacity="1.00"/>
<ellipse cx="115.0" cy="608.7" rx="9.5" ry="16.3" fill="url(#n_red)" opacity="1.00"/>
<ellipse cx="33.4" cy="628.4" rx="3.2" ry="5.5" fill="url(#n_red)" opacity="1.00"/>
<ellipse cx="215.5" cy="455.0" rx="12.0" ry="20.6" fill="url(#n_yellow)" opacity="1.00"/>
<ellipse cx="238.5" cy="474.5" rx="12.5" ry="21.5" fill="url(#n_yellow)" opacity="1.00"/>
<ellipse cx="285.0" cy="573.0" rx="10.0" ry="17.2" fill="url(#n_yellow)" opacity="1.00"/>
<ellipse cx="187.6" cy="600.0" rx="7.5" ry="12.9" fill="url(#n_yellow)" opacity="1.00"/>
<ellipse cx="291.5" cy="623.6" rx="3.6" ry="6.2" fill="url(#n_yellow)" opacity="1.00"/>
<ellipse cx="245.8" cy="633.8" rx="6.0" ry="10.3" fill="url(#n_yellow)" opacity="1.00"/>
<ellipse cx="227.3" cy="678.5" rx="8.5" ry="14.6" fill="url(#n_yellow)" opacity="1.00"/>
<ellipse cx="329.0" cy="158.4" rx="2.4" ry="4.1" fill="url(#n_green)" opacity="1.00"/>
<ellipse cx="288.3" cy="279.4" rx="11.0" ry="18.9" fill="url(#n_green)" opacity="1.00"/>
<ellipse cx="281.0" cy="341.0" rx="13.5" ry="23.2" fill="url(#n_green)" opacity="1.00"/>
<ellipse cx="232.4" cy="358.7" rx="11.6" ry="20.0" fill="url(#n_green)" opacity="1.00"/>
<ellipse cx="256.3" cy="367.2" rx="12.0" ry="20.6" fill="url(#n_green)" opacity="1.00"/>
<ellipse cx="201.4" cy="389.7" rx="10.6" ry="18.2" fill="url(#n_green)" opacity="1.00"/>
<ellipse cx="238.0" cy="423.5" rx="11.3" ry="19.4" fill="url(#n_green)" opacity="1.00"/>
<ellipse cx="264.5" cy="468.0" rx="12.0" ry="20.6" fill="url(#n_green)" opacity="1.00"/>
<ellipse cx="157.0" cy="475.2" rx="10.9" ry="18.7" fill="url(#n_green)" opacity="1.00"/>
<ellipse cx="207.5" cy="507.0" rx="14.0" ry="24.1" fill="url(#n_green)" opacity="1.00"/>
<ellipse cx="323.0" cy="521.0" rx="12.5" ry="21.5" fill="url(#n_green)" opacity="1.00"/>
<ellipse cx="123.2" cy="493.5" rx="21.5" ry="37.0" fill="url(#n_purple)" opacity="1.00"/>
<ellipse cx="80.5" cy="689.7" rx="5.0" ry="8.6" fill="url(#n_purple)" opacity="1.00"/>
<ellipse cx="64.4" cy="703.0" rx="3.5" ry="6.0" fill="url(#n_purple)" opacity="1.00"/>
<ellipse cx="116.5" cy="701.7" rx="5.0" ry="8.6" fill="url(#n_purple)" opacity="1.00"/>
<ellipse cx="205.3" cy="689.5" rx="9.5" ry="16.3" fill="url(#n_purple)" opacity="1.00"/>
<ellipse cx="276.6" cy="778.5" rx="4.0" ry="6.9" fill="url(#n_purple)" opacity="1.00"/>
<ellipse cx="281.2" cy="798.6" rx="3.6" ry="6.2" fill="url(#n_purple)" opacity="1.00"/>
<ellipse cx="206.0" cy="652.4" rx="17.0" ry="29.2" fill="url(#n_blue)" opacity="1.00"/>
<ellipse cx="270.3" cy="639.7" rx="17.7" ry="30.4" fill="url(#n_blue)" opacity="1.00"/>
<ellipse cx="158.0" cy="703.0" rx="9.5" ry="16.3" fill="url(#n_blue)" opacity="1.00"/>
<ellipse cx="170.7" cy="713.2" rx="8.5" ry="14.6" fill="url(#n_blue)" opacity="1.00"/>
<ellipse cx="161.4" cy="734.3" rx="9.0" ry="15.5" fill="url(#n_blue)" opacity="1.00"/>
<ellipse cx="160.4" cy="866.1" rx="3.6" ry="6.2" fill="url(#n_blue)" opacity="1.00"/>
<ellipse cx="168.5" cy="879.7" rx="5.5" ry="9.5" fill="url(#n_blue)" opacity="1.00"/>
<ellipse cx="201.0" cy="879.7" rx="8.0" ry="13.8" fill="url(#n_blue)" opacity="1.00"/>
<ellipse cx="179.0" cy="899.0" rx="4.6" ry="7.9" fill="url(#n_blue)" opacity="1.00"/>
<ellipse cx="190.8" cy="922.7" rx="5.6" ry="9.6" fill="url(#n_blue)" opacity="1.00"/>
<ellipse cx="199.0" cy="941.3" rx="4.6" ry="7.9" fill="url(#n_blue)" opacity="1.00"/>
<ellipse cx="342.0" cy="861.0" rx="2.4" ry="4.1" fill="url(#n_blue)" opacity="1.00"/>
<ellipse cx="493.8" cy="630.5" rx="10.3" ry="17.7" fill="url(#n_orange)" opacity="1.00"/>
<ellipse cx="579.0" cy="643.2" rx="6.0" ry="10.3" fill="url(#n_orange)" opacity="1.00"/>
<ellipse cx="608.6" cy="659.2" rx="3.6" ry="6.2" fill="url(#n_orange)" opacity="1.00"/>
<ellipse cx="465.0" cy="620.4" rx="4.0" ry="6.9" fill="url(#n_orange)" opacity="1.00"/>
<ellipse cx="264.8" cy="439.7" rx="14.4" ry="24.8" fill="url(#n_cyan)" opacity="1.00"/>
<ellipse cx="474.0" cy="239.0" rx="2.0" ry="3.4" fill="url(#n_cyan)" opacity="1.00"/>
<ellipse cx="381.0" cy="422.0" rx="2.5" ry="4.3" fill="url(#n_cyan)" opacity="1.00"/>
<ellipse cx="852.0" cy="590.0" rx="2.0" ry="3.4" fill="url(#n_cyan)" opacity="1.00"/>
<ellipse cx="1148.0" cy="614.0" rx="2.4" ry="4.1" fill="url(#n_cyan)" opacity="1.00"/>
<ellipse cx="407.0" cy="550.0" rx="3.6" ry="6.2" fill="url(#n_green)" opacity="1.00"/>
<ellipse cx="374.3" cy="579.5" rx="31.0" ry="53.5" fill="url(#n_cyan)" opacity="1.00"/>
<text transform="translate(308.5,168.1) scale(1,1.650)" font-size="11.29" fill="#111" opacity="1.00" stroke="#111" stroke-width="0.14" textLength="40.8" lengthAdjust="spacingAndGlyphs">romania</text>
<text transform="translate(442.7,245.3) scale(1,1.650)" font-size="12.31" fill="#111" opacity="1.00" stroke="#111" stroke-width="0.15" textLength="64.3" lengthAdjust="spacingAndGlyphs">luxembourg</text>
<text transform="translate(237.2,289.6) scale(1,1.650)" font-size="15.80" fill="#111" opacity="1.00" stroke="#111" stroke-width="0.19" textLength="101.0" lengthAdjust="spacingAndGlyphs">czech republic</text>
<text transform="translate(255.6,351.7) scale(1,1.650)" font-size="16.77" fill="#111" opacity="1.00" stroke="#111" stroke-width="0.20" textLength="49.4" lengthAdjust="spacingAndGlyphs">cyprus</text>
<text transform="translate(202.8,367.7) scale(1,1.650)" font-size="16.00" fill="#555" opacity="1.00" stroke="#555" stroke-width="0.19" textLength="57.8" lengthAdjust="spacingAndGlyphs">hungary</text>
<text transform="translate(186.0,396.6) scale(1,1.650)" font-size="14.34" fill="#555" opacity="1.00" stroke="#555" stroke-width="0.17" textLength="29.5" lengthAdjust="spacingAndGlyphs">chile</text>
<text transform="translate(249.3,448.3) scale(1,1.650)" font-size="16.65" fill="#111" opacity="1.00" stroke="#111" stroke-width="0.20" textLength="29.6" lengthAdjust="spacingAndGlyphs">italy</text>
<text transform="translate(360.6,426.3) scale(1,1.650)" font-size="11.79" fill="#111" opacity="1.00" stroke="#111" stroke-width="0.14" textLength="36.7" lengthAdjust="spacingAndGlyphs">malawi</text>
<text transform="translate(213.1,484.0) scale(1,1.650)" font-size="17.12" fill="#6e6e58" opacity="1.00" stroke="#6e6e58" stroke-width="0.21" textLength="51.4" lengthAdjust="spacingAndGlyphs">poland</text>
<text transform="translate(107.0,504.5) scale(1,1.650)" font-size="20.47" fill="#111" opacity="1.00" stroke="#111" stroke-width="0.25" textLength="33.0" lengthAdjust="spacingAndGlyphs">usa</text>
<text transform="translate(181.4,516.4) scale(1,1.650)" font-size="17.04" fill="#111" opacity="1.00" stroke="#111" stroke-width="0.20" textLength="52.1" lengthAdjust="spacingAndGlyphs">greece</text>
<text transform="translate(294.7,531.8) scale(1,1.650)" font-size="17.03" fill="#111" opacity="1.00" stroke="#111" stroke-width="0.20" textLength="54.9" lengthAdjust="spacingAndGlyphs">norway</text>
<text transform="translate(57.0,533.0) scale(1,1.650)" font-size="11.41" fill="#555555" opacity="0.68" stroke="#555555" stroke-width="0.14" textLength="45.0" lengthAdjust="spacingAndGlyphs">malaysia</text>
<text transform="translate(163.6,558.4) scale(1,1.650)" font-size="16.10" fill="#111" opacity="1.00" stroke="#111" stroke-width="0.19" textLength="39.4" lengthAdjust="spacingAndGlyphs">japan</text>
<text transform="translate(263.0,583.4) scale(1,1.650)" font-size="12.33" fill="#a0a080" opacity="1.00" stroke="#a0a080" stroke-width="0.15" textLength="37.0" lengthAdjust="spacingAndGlyphs">austria</text>
<text transform="translate(102.0,582.8) scale(1,1.650)" font-size="14.67" fill="#111" opacity="1.00" stroke="#111" stroke-width="0.18" textLength="31.0" lengthAdjust="spacingAndGlyphs">india</text>
<text transform="translate(170.7,607.0) scale(1,1.650)" font-size="13.81" fill="#111" opacity="1.00" stroke="#111" stroke-width="0.17" textLength="33.0" lengthAdjust="spacingAndGlyphs">brazil</text>
<text transform="translate(27.7,622.9) scale(1,1.650)" font-size="14.85" fill="#111" opacity="1.00" stroke="#111" stroke-width="0.18" textLength="100.7" lengthAdjust="spacingAndGlyphs">peoples r china</text>
<text transform="translate(480.0,640.4) scale(1,1.650)" font-size="16.19" fill="#111" opacity="1.00" stroke="#111" stroke-width="0.19" textLength="27.0" lengthAdjust="spacingAndGlyphs">iran</text>
<text transform="translate(551.0,651.1) scale(1,1.650)" font-size="13.16" fill="#111" opacity="1.00" stroke="#111" stroke-width="0.16" textLength="53.4" lengthAdjust="spacingAndGlyphs">mongolia</text>
<text transform="translate(234.9,648.6) scale(1,1.650)" font-size="19.70" fill="#111" opacity="1.00" stroke="#111" stroke-width="0.24" textLength="70.1" lengthAdjust="spacingAndGlyphs">england</text>
<text transform="translate(182.5,661.8) scale(1,1.650)" font-size="19.45" fill="#111" opacity="1.00" stroke="#111" stroke-width="0.23" textLength="46.5" lengthAdjust="spacingAndGlyphs">spain</text>
<text transform="translate(45.0,696.1) scale(1,1.650)" font-size="13.00" fill="#222" opacity="1.00" stroke="#222" stroke-width="0.16" textLength="70.8" lengthAdjust="spacingAndGlyphs">saudi arabia</text>
<text transform="translate(114.0,712.3) scale(1,1.650)" font-size="16.46" fill="#111" opacity="1.00" stroke="#111" stroke-width="0.20" textLength="86.0" lengthAdjust="spacingAndGlyphs">netherlands</text>
<text transform="translate(254.0,786.9) scale(1,1.650)" font-size="13.63" fill="#111" opacity="1.00" stroke="#111" stroke-width="0.16" textLength="44.7" lengthAdjust="spacingAndGlyphs">ukraine</text>
<text transform="translate(325.0,867.2) scale(1,1.650)" font-size="11.04" fill="#111" opacity="1.00" stroke="#111" stroke-width="0.13" textLength="35.6" lengthAdjust="spacingAndGlyphs">albania</text>
<text transform="translate(173.0,887.8) scale(1,1.650)" font-size="15.44" fill="#111" opacity="1.00" stroke="#111" stroke-width="0.19" textLength="57.5" lengthAdjust="spacingAndGlyphs">lithuania</text>
<text transform="translate(167.0,930.8) scale(1,1.650)" font-size="13.37" fill="#111" opacity="1.00" stroke="#111" stroke-width="0.16" textLength="48.3" lengthAdjust="spacingAndGlyphs">portugal</text>
<text transform="translate(820.0,595.9) scale(1,1.650)" font-size="11.53" fill="#111" opacity="1.00" stroke="#111" stroke-width="0.14" textLength="66.0" lengthAdjust="spacingAndGlyphs">turkmenistan</text>
<text transform="translate(1116.5,619.4) scale(1,1.650)" font-size="12.09" fill="#111" opacity="1.00" stroke="#111" stroke-width="0.15" textLength="62.5" lengthAdjust="spacingAndGlyphs">afghanistan</text>
<text transform="translate(288.4,591.6) scale(1,1.650)" font-size="25.98" fill="#000" opacity="1.00" stroke="#000" stroke-width="0.31" textLength="171.8" lengthAdjust="spacingAndGlyphs">sağlık bil. enst.</text>
<rect x="407" y="912" width="767" height="36" fill="#EEF3F8"/>
<line x1="407" y1="912.5" x2="1174" y2="912.5" stroke="#c2d0de" stroke-width="1"/>
<line x1="636.0" y1="920" x2="636.0" y2="943" stroke="#c8ccd0" stroke-width="1.2"/>
<line x1="782.0" y1="920" x2="782.0" y2="943" stroke="#c8ccd0" stroke-width="1.2"/>
<line x1="923.5" y1="920" x2="923.5" y2="943" stroke="#c8ccd0" stroke-width="1.2"/>
<text x="420.5" y="938.0" font-size="18.60" fill="#1e1e1e" textLength="42.7" lengthAdjust="spacingAndGlyphs">Item:</text>
<text x="481.7" y="938.0" font-size="18.60" fill="#1e1e1e" textLength="129.1" lengthAdjust="spacingAndGlyphs">sağlık bil. enst.</text>
<text x="661.4" y="938.0" font-size="18.60" fill="#1e1e1e" textLength="65.3" lengthAdjust="spacingAndGlyphs">Cluster:</text>
<text x="745.1" y="938.0" font-size="18.60" fill="#1e1e1e" textLength="11.1" lengthAdjust="spacingAndGlyphs">6</text>
<text x="806.9" y="938.0" font-size="18.60" fill="#1e1e1e" textLength="48.9" lengthAdjust="spacingAndGlyphs">Links:</text>
<text x="875.2" y="938.0" font-size="18.60" fill="#1e1e1e" textLength="22.1" lengthAdjust="spacingAndGlyphs">73</text>
<text x="948.6" y="938.0" font-size="18.60" fill="#1e1e1e" textLength="161.1" lengthAdjust="spacingAndGlyphs">Total link strength:</text>
<text x="1127.5" y="938.0" font-size="18.60" fill="#1e1e1e" textLength="35.8" lengthAdjust="spacingAndGlyphs">579</text></g>
<rect x="13" y="133" width="1173" height="832" fill="none" stroke="#000" stroke-width="2"/>
<g clip-path="url(#clipR)"><rect x="1207" y="133" width="690" height="526" fill="#fff"/>
<ellipse cx="1374.0" cy="157.7" rx="3.0" ry="3.0" fill="url(#n_red)" opacity="0.22"/>
<ellipse cx="1377.6" cy="168.2" rx="2.5" ry="2.5" fill="url(#n_red)" opacity="0.22"/>
<ellipse cx="1444.5" cy="171.5" rx="5.0" ry="5.0" fill="url(#n_red)" opacity="0.22"/>
<ellipse cx="1478.0" cy="178.9" rx="8.0" ry="8.0" fill="url(#n_green)" opacity="0.22"/>
<ellipse cx="1528.6" cy="186.4" rx="7.0" ry="7.0" fill="url(#n_green)" opacity="0.22"/>
<ellipse cx="1533.6" cy="192.6" rx="7.0" ry="7.0" fill="url(#n_green)" opacity="0.22"/>
<ellipse cx="1409.6" cy="223.8" rx="7.0" ry="7.0" fill="url(#n_green)" opacity="0.22"/>
<ellipse cx="1489.9" cy="270.5" rx="7.5" ry="7.5" fill="url(#n_green)" opacity="0.22"/>
<ellipse cx="1548.3" cy="293.3" rx="9.5" ry="9.5" fill="url(#n_cyan)" opacity="0.22"/>
<ellipse cx="1386.4" cy="298.6" rx="5.0" ry="5.0" fill="url(#n_red)" opacity="0.22"/>
<ellipse cx="1549.6" cy="323.8" rx="7.1" ry="7.1" fill="url(#n_green)" opacity="0.22"/>
<ellipse cx="1278.4" cy="336.0" rx="2.5" ry="2.5" fill="url(#n_red)" opacity="0.22"/>
<ellipse cx="1310.3" cy="344.8" rx="7.0" ry="7.0" fill="url(#n_green)" opacity="0.22"/>
<ellipse cx="1284.0" cy="356.0" rx="6.0" ry="6.0" fill="url(#n_red)" opacity="0.22"/>
<ellipse cx="1493.6" cy="346.5" rx="9.0" ry="9.0" fill="url(#n_yellow)" opacity="0.22"/>
<ellipse cx="1423.0" cy="389.7" rx="9.0" ry="9.0" fill="url(#n_green)" opacity="0.22"/>
<ellipse cx="1452.5" cy="386.0" rx="2.5" ry="2.5" fill="url(#n_yellow)" opacity="0.22"/>
<ellipse cx="1444.4" cy="403.8" rx="2.5" ry="2.5" fill="url(#n_yellow)" opacity="0.22"/>
<ellipse cx="1369.7" cy="419.0" rx="7.0" ry="7.0" fill="url(#n_red)" opacity="0.22"/>
<ellipse cx="1235.2" cy="452.4" rx="4.5" ry="4.5" fill="url(#n_red)" opacity="0.22"/>
<ellipse cx="1370.2" cy="452.9" rx="7.5" ry="7.5" fill="url(#n_red)" opacity="0.22"/>
<ellipse cx="1225.0" cy="491.3" rx="6.0" ry="6.0" fill="url(#n_red)" opacity="0.22"/>
<ellipse cx="1379.0" cy="524.0" rx="5.5" ry="5.5" fill="url(#n_yellow)" opacity="0.22"/>
<ellipse cx="1221.8" cy="538.4" rx="4.5" ry="4.5" fill="url(#n_red)" opacity="0.22"/>
<ellipse cx="1211.0" cy="532.8" rx="4.0" ry="4.0" fill="url(#n_red)" opacity="0.22"/>
<ellipse cx="1429.3" cy="581.0" rx="4.0" ry="4.0" fill="url(#n_yellow)" opacity="0.22"/>
<ellipse cx="1509.7" cy="579.0" rx="4.0" ry="4.0" fill="url(#n_yellow)" opacity="0.22"/>
<ellipse cx="1467.0" cy="636.4" rx="5.0" ry="5.0" fill="url(#n_yellow)" opacity="0.22"/>
<ellipse cx="1418.0" cy="647.0" rx="6.0" ry="6.0" fill="url(#n_purple)" opacity="0.22"/>
<ellipse cx="1679.0" cy="413.9" rx="6.0" ry="6.0" fill="url(#n_green)" opacity="0.22"/>
<ellipse cx="1868.8" cy="453.3" rx="1.5" ry="1.5" fill="url(#n_green)" opacity="0.22"/>
<ellipse cx="1595.8" cy="493.0" rx="6.0" ry="6.0" fill="url(#n_yellow)" opacity="0.22"/>
<ellipse cx="1609.0" cy="558.4" rx="1.5" ry="1.5" fill="url(#n_yellow)" opacity="0.22"/>
<ellipse cx="1805.0" cy="265.5" rx="1.5" ry="1.5" fill="url(#n_cyan)" opacity="0.22"/>
<path d="M1235.0,373.0 C1437.5,290.0 1638.6,343.3 1793.0,492.0" fill="none" stroke="url(#lg68)" stroke-width="7.6" stroke-linecap="round" opacity="1.00"/>
<path d="M1440.5,319.0 C1525.3,459.1 1626.2,505.0 1793.0,497.0" fill="none" stroke="url(#lg69)" stroke-width="4.6" stroke-linecap="round" opacity="1.00"/>
<path d="M1585.7,155.0 C1584.7,299.0 1659.2,435.4 1793.0,495.0" fill="none" stroke="url(#lg70)" stroke-width="4.6" stroke-linecap="round" opacity="1.00"/>
<path d="M1421.0,600.0 C1550.3,484.5 1617.9,451.4 1793.0,492.0" fill="none" stroke="url(#lg71)" stroke-width="4.6" stroke-linecap="round" opacity="1.00"/>
<path d="M1562.6,580.0 C1626.5,480.2 1681.3,479.7 1793.0,492.0" fill="none" stroke="url(#lg72)" stroke-width="4.6" stroke-linecap="round" opacity="1.00"/>
<text transform="translate(1364.0,159.9) scale(1,1.000)" font-size="8.59" fill="#555555" opacity="0.35" textLength="21.0" lengthAdjust="spacingAndGlyphs">egypt</text>
<text transform="translate(1364.7,170.3) scale(1,1.000)" font-size="7.99" fill="#555555" opacity="0.35" textLength="25.3" lengthAdjust="spacingAndGlyphs">mexico</text>
<text transform="translate(1427.5,173.9) scale(1,1.000)" font-size="9.56" fill="#555555" opacity="0.35" textLength="33.5" lengthAdjust="spacingAndGlyphs">thailand</text>
<text transform="translate(1458.0,181.8) scale(1,1.000)" font-size="11.07" fill="#555555" opacity="0.46" textLength="40.0" lengthAdjust="spacingAndGlyphs">hungary</text>
<text transform="translate(1507.4,195.5) scale(1,1.000)" font-size="11.13" fill="#555555" opacity="0.46" textLength="52.6" lengthAdjust="spacingAndGlyphs">philippines</text>
<text transform="translate(1399.6,226.4) scale(1,1.000)" font-size="9.92" fill="#555555" opacity="0.46" textLength="20.4" lengthAdjust="spacingAndGlyphs">chile</text>
<text transform="translate(1467.4,273.3) scale(1,1.000)" font-size="10.90" fill="#555555" opacity="0.46" textLength="43.6" lengthAdjust="spacingAndGlyphs">colombia</text>
<text transform="translate(1537.0,296.1) scale(1,1.000)" font-size="11.81" fill="#555555" opacity="0.46" textLength="21.0" lengthAdjust="spacingAndGlyphs">italy</text>
<text transform="translate(1374.6,301.1) scale(1,1.000)" font-size="9.56" fill="#555555" opacity="0.46" textLength="23.4" lengthAdjust="spacingAndGlyphs">nepal</text>
<text transform="translate(1536.8,326.3) scale(1,1.000)" font-size="10.55" fill="#555555" opacity="0.46" textLength="25.2" lengthAdjust="spacingAndGlyphs">israel</text>
<text transform="translate(1266.6,338.0) scale(1,1.000)" font-size="7.80" fill="#555555" opacity="0.35" textLength="23.4" lengthAdjust="spacingAndGlyphs">nigeria</text>
<text transform="translate(1283.0,349.3) scale(1,1.000)" font-size="10.83" fill="#555555" opacity="0.46" textLength="56.0" lengthAdjust="spacingAndGlyphs">south africa</text>
<text transform="translate(1476.0,349.0) scale(1,1.000)" font-size="11.66" fill="#555555" opacity="0.46" textLength="35.0" lengthAdjust="spacingAndGlyphs">poland</text>
<text transform="translate(1405.0,394.1) scale(1,1.000)" font-size="11.77" fill="#555555" opacity="0.46" textLength="36.0" lengthAdjust="spacingAndGlyphs">greece</text>
<text transform="translate(1440.0,388.1) scale(1,1.000)" font-size="8.00" fill="#555555" opacity="0.35" textLength="24.0" lengthAdjust="spacingAndGlyphs">croatia</text>
<text transform="translate(1429.0,406.1) scale(1,1.000)" font-size="8.72" fill="#555555" opacity="0.35" textLength="32.0" lengthAdjust="spacingAndGlyphs">slovenia</text>
<text transform="translate(1350.0,421.6) scale(1,1.000)" font-size="10.19" fill="#555555" opacity="0.46" textLength="38.5" lengthAdjust="spacingAndGlyphs">australia</text>
<text transform="translate(1217.6,454.9) scale(1,1.000)" font-size="9.45" fill="#555555" opacity="0.46" textLength="35.2" lengthAdjust="spacingAndGlyphs">scotland</text>
<text transform="translate(1356.0,455.8) scale(1,1.000)" font-size="11.24" fill="#555555" opacity="0.46" textLength="27.5" lengthAdjust="spacingAndGlyphs">japan</text>
<text transform="translate(1213.5,494.0) scale(1,1.000)" font-size="10.51" fill="#555555" opacity="0.46" textLength="22.2" lengthAdjust="spacingAndGlyphs">india</text>
<text transform="translate(1367.7,526.5) scale(1,1.000)" font-size="9.67" fill="#555555" opacity="0.46" textLength="23.1" lengthAdjust="spacingAndGlyphs">brazil</text>
<text transform="translate(1208.0,540.9) scale(1,1.000)" font-size="9.50" fill="#555555" opacity="0.46" textLength="28.0" lengthAdjust="spacingAndGlyphs">finland</text>
<text transform="translate(1415.4,585.2) scale(1,1.000)" font-size="8.86" fill="#555555" opacity="0.35" textLength="33.5" lengthAdjust="spacingAndGlyphs">moldova</text>
<text transform="translate(1491.4,581.5) scale(1,1.000)" font-size="9.61" fill="#555555" opacity="0.46" textLength="37.4" lengthAdjust="spacingAndGlyphs">denmark</text>
<text transform="translate(1450.0,638.9) scale(1,1.000)" font-size="9.65" fill="#555555" opacity="0.46" textLength="33.8" lengthAdjust="spacingAndGlyphs">belgium</text>
<text transform="translate(1404.4,649.6) scale(1,1.000)" font-size="10.04" fill="#555555" opacity="0.46" textLength="27.9" lengthAdjust="spacingAndGlyphs">france</text>
<text transform="translate(1660.7,415.0) scale(1,1.000)" font-size="11.70" fill="#555555" opacity="0.46" textLength="37.7" lengthAdjust="spacingAndGlyphs">norway</text>
<text transform="translate(1856.0,455.3) scale(1,1.000)" font-size="7.71" fill="#555555" opacity="0.35" textLength="27.0" lengthAdjust="spacingAndGlyphs">ethiopia</text>
<text transform="translate(1580.0,494.0) scale(1,1.000)" font-size="10.33" fill="#555555" opacity="0.46" textLength="31.0" lengthAdjust="spacingAndGlyphs">austria</text>
<text transform="translate(1596.6,560.4) scale(1,1.000)" font-size="7.88" fill="#555555" opacity="0.35" textLength="25.4" lengthAdjust="spacingAndGlyphs">zambia</text>
<text transform="translate(1791.5,267.6) scale(1,1.000)" font-size="8.19" fill="#555555" opacity="0.35" textLength="25.5" lengthAdjust="spacingAndGlyphs">malawi</text>
<ellipse cx="1235.4" cy="373.5" rx="15.5" ry="15.5" fill="url(#n_purple)" opacity="1.00"/>
<ellipse cx="1440.5" cy="318.6" rx="8.5" ry="8.5" fill="url(#n_yellow)" opacity="1.00"/>
<ellipse cx="1585.7" cy="152.7" rx="9.4" ry="9.4" fill="url(#n_green)" opacity="1.00"/>
<ellipse cx="1421.0" cy="600.2" rx="12.0" ry="12.0" fill="url(#n_blue)" opacity="1.00"/>
<ellipse cx="1562.6" cy="580.3" rx="12.6" ry="12.6" fill="url(#n_blue)" opacity="1.00"/>
<ellipse cx="1793.4" cy="495.6" rx="21.0" ry="21.0" fill="url(#n_cyan)" opacity="1.00"/>
<text transform="translate(1225.0,377.1) scale(1,1.000)" font-size="13.89" fill="#111" opacity="1.00" textLength="22.4" lengthAdjust="spacingAndGlyphs">usa</text>
<text transform="translate(1418.8,322.8) scale(1,1.000)" font-size="11.03" fill="#111" opacity="1.00" textLength="42.9" lengthAdjust="spacingAndGlyphs">germany</text>
<text transform="translate(1568.7,155.7) scale(1,1.000)" font-size="11.44" fill="#111" opacity="1.00" textLength="33.7" lengthAdjust="spacingAndGlyphs">cyprus</text>
<text transform="translate(1735.6,501.4) scale(1,1.000)" font-size="17.55" fill="#111" opacity="1.00" textLength="116.1" lengthAdjust="spacingAndGlyphs">sağlık bil. enst.</text>
<text transform="translate(1404.9,604.0) scale(1,1.000)" font-size="13.34" fill="#111" opacity="1.00" textLength="31.9" lengthAdjust="spacingAndGlyphs">spain</text>
<text transform="translate(1537.5,583.4) scale(1,1.000)" font-size="13.77" fill="#111" opacity="1.00" textLength="49.0" lengthAdjust="spacingAndGlyphs">england</text></g>
<rect x="1207" y="133" width="690" height="526" fill="none" stroke="#000" stroke-width="2"/>
<rect x="1227.0" y="695.8" width="140.0" height="77.4" fill="#4472C4"/>
<rect x="1369.0" y="695.8" width="145.0" height="77.4" fill="#4472C4"/>
<rect x="1227.0" y="779.6" width="140.0" height="43.4" fill="#CFD5EA"/>
<rect x="1369.0" y="779.6" width="145.0" height="43.4" fill="#CFD5EA"/>
<rect x="1227.0" y="825.0" width="140.0" height="46.3" fill="#E9EBF5"/>
<rect x="1369.0" y="825.0" width="145.0" height="46.3" fill="#E9EBF5"/>
<rect x="1227.0" y="873.0" width="140.0" height="46.0" fill="#CFD5EA"/>
<rect x="1369.0" y="873.0" width="145.0" height="46.0" fill="#CFD5EA"/>
<rect x="1227.0" y="921.0" width="140.0" height="46.2" fill="#E9EBF5"/>
<rect x="1369.0" y="921.0" width="145.0" height="46.2" fill="#E9EBF5"/>
<rect x="1227.0" y="969.0" width="140.0" height="46.3" fill="#CFD5EA"/>
<rect x="1369.0" y="969.0" width="145.0" height="46.3" fill="#CFD5EA"/>
<rect x="1600.0" y="693.8" width="140.0" height="77.4" fill="#4472C4"/>
<rect x="1742.0" y="693.8" width="132.0" height="77.4" fill="#4472C4"/>
<rect x="1600.0" y="777.6" width="140.0" height="43.4" fill="#CFD5EA"/>
<rect x="1742.0" y="777.6" width="132.0" height="43.4" fill="#CFD5EA"/>
<rect x="1600.0" y="823.0" width="140.0" height="46.3" fill="#E9EBF5"/>
<rect x="1742.0" y="823.0" width="132.0" height="46.3" fill="#E9EBF5"/>
<rect x="1600.0" y="871.0" width="140.0" height="46.0" fill="#CFD5EA"/>
<rect x="1742.0" y="871.0" width="132.0" height="46.0" fill="#CFD5EA"/>
<rect x="1600.0" y="919.0" width="140.0" height="46.2" fill="#E9EBF5"/>
<rect x="1742.0" y="919.0" width="132.0" height="46.2" fill="#E9EBF5"/>
<rect x="1600.0" y="967.0" width="140.0" height="46.3" fill="#CFD5EA"/>
<rect x="1742.0" y="967.0" width="132.0" height="46.3" fill="#CFD5EA"/>
<text x="1240.5" y="727.5" font-size="23.20" fill="#fff" font-weight="bold" textLength="67.0" lengthAdjust="spacingAndGlyphs">Güçlü</text>
<text x="1240.5" y="761.8" font-size="23.20" fill="#fff" font-weight="bold" textLength="53.5" lengthAdjust="spacingAndGlyphs">İlişki</text>
<text x="1383.0" y="727.5" font-size="23.20" fill="#fff" font-weight="bold" textLength="47.5" lengthAdjust="spacingAndGlyphs">Link</text>
<text x="1382.8" y="761.8" font-size="23.20" fill="#fff" font-weight="bold" textLength="99.5" lengthAdjust="spacingAndGlyphs">Strength</text>
<text x="1240.4" y="809.6" font-size="23.20" fill="#000" textLength="93.1" lengthAdjust="spacingAndGlyphs">Amerika</text>
<text x="1383.2" y="809.6" font-size="23.20" fill="#000" textLength="42.0" lengthAdjust="spacingAndGlyphs">111</text>
<text x="1240.4" y="857.6" font-size="23.20" fill="#000" textLength="94.4" lengthAdjust="spacingAndGlyphs">İngiltere</text>
<text x="1383.2" y="857.6" font-size="23.20" fill="#000" textLength="28.1" lengthAdjust="spacingAndGlyphs">45</text>
<text x="1240.4" y="905.6" font-size="23.20" fill="#000" textLength="61.8" lengthAdjust="spacingAndGlyphs">Kıbrıs</text>
<text x="1383.2" y="905.6" font-size="23.20" fill="#000" textLength="28.1" lengthAdjust="spacingAndGlyphs">39</text>
<text x="1240.4" y="953.6" font-size="23.20" fill="#000" textLength="98.1" lengthAdjust="spacingAndGlyphs">Almanya</text>
<text x="1383.2" y="953.6" font-size="23.20" fill="#000" textLength="28.1" lengthAdjust="spacingAndGlyphs">34</text>
<text x="1240.4" y="1001.6" font-size="23.20" fill="#000" textLength="85.6" lengthAdjust="spacingAndGlyphs">İspanya</text>
<text x="1383.2" y="1001.6" font-size="23.20" fill="#000" textLength="28.1" lengthAdjust="spacingAndGlyphs">31</text>
<text x="1613.5" y="725.6" font-size="23.20" fill="#fff" font-weight="bold" textLength="57.0" lengthAdjust="spacingAndGlyphs">Zayıf</text>
<text x="1613.5" y="759.8" font-size="23.20" fill="#fff" font-weight="bold" textLength="53.5" lengthAdjust="spacingAndGlyphs">İlişki</text>
<text x="1756.0" y="725.6" font-size="23.20" fill="#fff" font-weight="bold" textLength="47.5" lengthAdjust="spacingAndGlyphs">Link</text>
<text x="1755.8" y="759.8" font-size="23.20" fill="#fff" font-weight="bold" textLength="99.5" lengthAdjust="spacingAndGlyphs">Strength</text>
<text x="1613.8" y="807.7" font-size="23.20" fill="#000" textLength="90.2" lengthAdjust="spacingAndGlyphs">Arjantin</text>
<text x="1756.8" y="807.7" font-size="23.20" fill="#000" textLength="13.2" lengthAdjust="spacingAndGlyphs">1</text>
<text x="1613.8" y="855.7" font-size="23.20" fill="#000" textLength="94.2" lengthAdjust="spacingAndGlyphs">Pakistan</text>
<text x="1756.8" y="855.7" font-size="23.20" fill="#000" textLength="13.2" lengthAdjust="spacingAndGlyphs">1</text>
<text x="1613.8" y="903.7" font-size="23.20" fill="#000" textLength="83.2" lengthAdjust="spacingAndGlyphs">Lübnan</text>
<text x="1756.8" y="903.7" font-size="23.20" fill="#000" textLength="13.2" lengthAdjust="spacingAndGlyphs">1</text>
<text x="1613.8" y="951.7" font-size="23.20" fill="#000" textLength="104.5" lengthAdjust="spacingAndGlyphs">Romanya</text>
<text x="1756.8" y="951.7" font-size="23.20" fill="#000" textLength="13.2" lengthAdjust="spacingAndGlyphs">1</text>
<text x="1613.8" y="999.7" font-size="23.20" fill="#000" textLength="72.8" lengthAdjust="spacingAndGlyphs">Filistin</text>
<text x="1756.8" y="999.7" font-size="23.20" fill="#000" textLength="13.2" lengthAdjust="spacingAndGlyphs">1</text>
<circle cx="34.8" cy="992.5" r="4.5" fill="#000"/>
<circle cx="34.8" cy="1035.5" r="4.5" fill="#000"/>
<text x="74.5" y="1004.7" font-size="31.50" fill="#000" textLength="858.5" lengthAdjust="spacingAndGlyphs">En az 1 ve üzeri ortak yayın yapılan tüm ülkeler dahil edildi.</text>
<text x="74.0" y="1048.2" font-size="31.50" fill="#000" textLength="754.5" lengthAdjust="spacingAndGlyphs">25 ve üzeri eş yazarlı yayınlar analize dahil edilmedi.</text>
<circle cx="18.7" cy="1048" r="17.2" fill="none" stroke="#c8c8c8" stroke-width="1.1" opacity="0.9"/>
<circle cx="65.0" cy="1048" r="17.2" fill="none" stroke="#c8c8c8" stroke-width="1.1" opacity="0.9"/>
<circle cx="112.0" cy="1048" r="17.2" fill="none" stroke="#c8c8c8" stroke-width="1.1" opacity="0.9"/>
<circle cx="159.5" cy="1048" r="17.2" fill="none" stroke="#c8c8c8" stroke-width="1.1" opacity="0.9"/>
<circle cx="206.6" cy="1048" r="17.2" fill="none" stroke="#c8c8c8" stroke-width="1.1" opacity="0.9"/>
<circle cx="253.6" cy="1048" r="17.2" fill="none" stroke="#c8c8c8" stroke-width="1.1" opacity="0.9"/>
<path d="M12.5,1048 L21,1042 L21,1054 Z" fill="none" stroke="#cfcfcf" stroke-width="1"/>
<path d="M71.5,1048 L63,1042 L63,1054 Z" fill="none" stroke="#cfcfcf" stroke-width="1"/>
<path d="M104,1057 L118,1041 M116,1039 L120,1043" fill="none" stroke="#cfcfcf" stroke-width="1.2"/>
<rect x="151" y="1040" width="8" height="7" fill="none" stroke="#cfcfcf" stroke-width="1"/><rect x="156" y="1044" width="12" height="11" fill="none" stroke="#cfcfcf" stroke-width="1"/>
<circle cx="204" cy="1045" r="5" fill="none" stroke="#cfcfcf" stroke-width="1.2"/><path d="M208,1049 L213,1054" stroke="#cfcfcf" stroke-width="1.4"/>
<circle cx="247" cy="1048" r="1.3" fill="#cfcfcf"/><circle cx="253.6" cy="1048" r="1.3" fill="#cfcfcf"/><circle cx="260" cy="1048" r="1.3" fill="#cfcfcf"/>
</svg>
</body></html>
